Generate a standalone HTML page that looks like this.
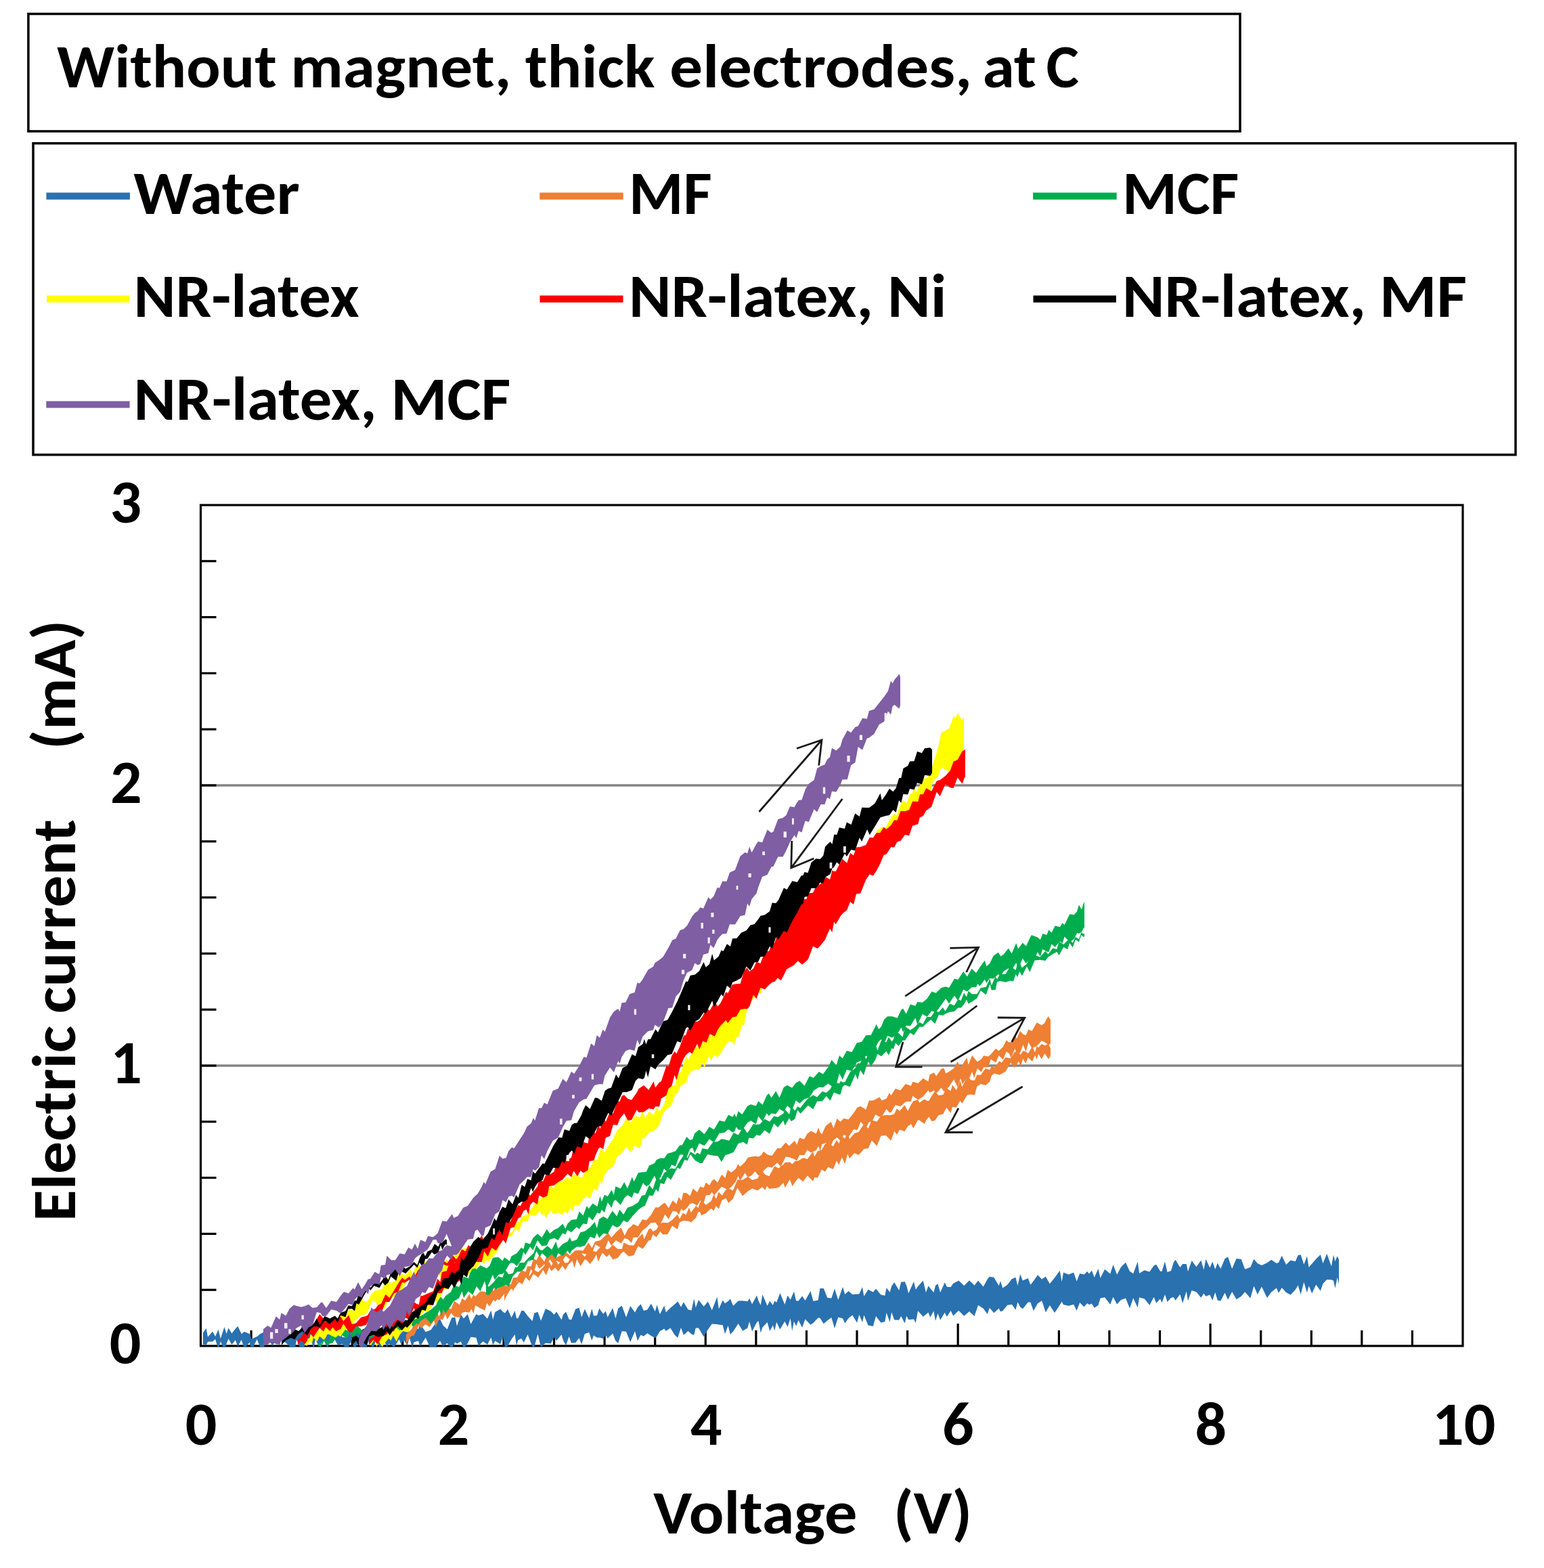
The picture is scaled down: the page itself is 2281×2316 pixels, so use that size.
<!DOCTYPE html><html><head><meta charset="utf-8"><style>html,body{margin:0;padding:0;background:#fff;width:2281px;height:2316px;overflow:hidden}svg{display:block} text{font-family:Carlito,'Liberation Sans',sans-serif;font-weight:bold;fill:#000}</style></head><body>
<svg width="2281" height="2316" viewBox="0 0 2281 2316">
<rect x="0" y="0" width="2281" height="2316" fill="#fff"/>
<rect x="41.9" y="20.5" width="1790.1" height="173.4" fill="none" stroke="#000" stroke-width="3.5"/>
<text x="84.0" y="128.5" font-size="92" textLength="324.9" lengthAdjust="spacingAndGlyphs" >Without</text>
<text x="429.2" y="128.5" font-size="92" textLength="326.2" lengthAdjust="spacingAndGlyphs" >magnet,</text>
<text x="775.7" y="128.5" font-size="92" textLength="191.8" lengthAdjust="spacingAndGlyphs" >thick</text>
<text x="989.2" y="128.5" font-size="92" textLength="446.9" lengthAdjust="spacingAndGlyphs" >electrodes,</text>
<text x="1451.4" y="128.5" font-size="92" textLength="79.6" lengthAdjust="spacingAndGlyphs" >at</text>
<text x="1545.5" y="128.5" font-size="92" textLength="48.4" lengthAdjust="spacingAndGlyphs" >C</text>
<rect x="49" y="211.7" width="2190" height="460" fill="none" stroke="#000" stroke-width="3.5"/>
<line x1="68.4" y1="289.6" x2="191.9" y2="289.6" stroke="#2a71b0" stroke-width="10.2"/>
<text x="197.2" y="315.5" font-size="92" textLength="245.5" lengthAdjust="spacingAndGlyphs" >Water</text>
<line x1="797.3" y1="289.6" x2="920.7" y2="289.6" stroke="#ee7f33" stroke-width="10.2"/>
<text x="929.0" y="315.5" font-size="92" textLength="122.7" lengthAdjust="spacingAndGlyphs" >MF</text>
<line x1="1526.1" y1="289.6" x2="1649.7" y2="289.6" stroke="#00ad4e" stroke-width="10.2"/>
<text x="1657.9" y="315.5" font-size="92" textLength="172.4" lengthAdjust="spacingAndGlyphs" >MCF</text>
<line x1="69.2" y1="441.7" x2="191.3" y2="441.7" stroke="#ffff00" stroke-width="10.2"/>
<text x="197.6" y="468.0" font-size="92" textLength="333.1" lengthAdjust="spacingAndGlyphs" >NR-latex</text>
<line x1="797.5" y1="441.7" x2="920.5" y2="441.7" stroke="#ff0000" stroke-width="10.2"/>
<text x="928.9" y="468.0" font-size="92" textLength="361.1" lengthAdjust="spacingAndGlyphs" >NR-latex,</text>
<text x="1311.0" y="468.0" font-size="92" textLength="87.4" lengthAdjust="spacingAndGlyphs" >Ni</text>
<line x1="1526.5" y1="441.7" x2="1648.9" y2="441.7" stroke="#000000" stroke-width="10.2"/>
<text x="1658.1" y="468.0" font-size="92" textLength="359.8" lengthAdjust="spacingAndGlyphs" >NR-latex,</text>
<text x="2037.8" y="468.0" font-size="92" textLength="129.2" lengthAdjust="spacingAndGlyphs" >MF</text>
<line x1="68.3" y1="597.5" x2="191.6" y2="597.5" stroke="#7f5ea3" stroke-width="10.2"/>
<text x="197.5" y="620.3" font-size="92" textLength="359.2" lengthAdjust="spacingAndGlyphs" >NR-latex,</text>
<text x="577.6" y="620.3" font-size="92" textLength="176.7" lengthAdjust="spacingAndGlyphs" >MCF</text>
<line x1="296.5" y1="1574.0" x2="2161.0" y2="1574.0" stroke="#858585" stroke-width="3.5"/>
<line x1="296.5" y1="1160.0" x2="2161.0" y2="1160.0" stroke="#858585" stroke-width="3.5"/>
<rect x="296.5" y="746.0" width="1864.5" height="1242.0" fill="none" stroke="#000" stroke-width="3.2"/>
<line x1="296.5" y1="1905.2" x2="319.5" y2="1905.2" stroke="#000" stroke-width="3.2"/>
<line x1="296.5" y1="1822.4" x2="319.5" y2="1822.4" stroke="#000" stroke-width="3.2"/>
<line x1="296.5" y1="1739.6" x2="319.5" y2="1739.6" stroke="#000" stroke-width="3.2"/>
<line x1="296.5" y1="1656.8" x2="319.5" y2="1656.8" stroke="#000" stroke-width="3.2"/>
<line x1="296.5" y1="1574.0" x2="319.5" y2="1574.0" stroke="#000" stroke-width="3.2"/>
<line x1="296.5" y1="1491.2" x2="319.5" y2="1491.2" stroke="#000" stroke-width="3.2"/>
<line x1="296.5" y1="1408.4" x2="319.5" y2="1408.4" stroke="#000" stroke-width="3.2"/>
<line x1="296.5" y1="1325.6" x2="319.5" y2="1325.6" stroke="#000" stroke-width="3.2"/>
<line x1="296.5" y1="1242.8" x2="319.5" y2="1242.8" stroke="#000" stroke-width="3.2"/>
<line x1="296.5" y1="1160.0" x2="319.5" y2="1160.0" stroke="#000" stroke-width="3.2"/>
<line x1="296.5" y1="1077.2" x2="319.5" y2="1077.2" stroke="#000" stroke-width="3.2"/>
<line x1="296.5" y1="994.4" x2="319.5" y2="994.4" stroke="#000" stroke-width="3.2"/>
<line x1="296.5" y1="911.6" x2="319.5" y2="911.6" stroke="#000" stroke-width="3.2"/>
<line x1="296.5" y1="828.8" x2="319.5" y2="828.8" stroke="#000" stroke-width="3.2"/>
<line x1="371.1" y1="1988.0" x2="371.1" y2="1965.0" stroke="#000" stroke-width="3.2"/>
<line x1="445.7" y1="1988.0" x2="445.7" y2="1965.0" stroke="#000" stroke-width="3.2"/>
<line x1="520.2" y1="1988.0" x2="520.2" y2="1965.0" stroke="#000" stroke-width="3.2"/>
<line x1="594.8" y1="1988.0" x2="594.8" y2="1965.0" stroke="#000" stroke-width="3.2"/>
<line x1="669.4" y1="1988.0" x2="669.4" y2="1955.0" stroke="#000" stroke-width="3.2"/>
<line x1="744.0" y1="1988.0" x2="744.0" y2="1965.0" stroke="#000" stroke-width="3.2"/>
<line x1="818.6" y1="1988.0" x2="818.6" y2="1965.0" stroke="#000" stroke-width="3.2"/>
<line x1="893.1" y1="1988.0" x2="893.1" y2="1965.0" stroke="#000" stroke-width="3.2"/>
<line x1="967.7" y1="1988.0" x2="967.7" y2="1965.0" stroke="#000" stroke-width="3.2"/>
<line x1="1042.3" y1="1988.0" x2="1042.3" y2="1955.0" stroke="#000" stroke-width="3.2"/>
<line x1="1116.9" y1="1988.0" x2="1116.9" y2="1965.0" stroke="#000" stroke-width="3.2"/>
<line x1="1191.5" y1="1988.0" x2="1191.5" y2="1965.0" stroke="#000" stroke-width="3.2"/>
<line x1="1266.0" y1="1988.0" x2="1266.0" y2="1965.0" stroke="#000" stroke-width="3.2"/>
<line x1="1340.6" y1="1988.0" x2="1340.6" y2="1965.0" stroke="#000" stroke-width="3.2"/>
<line x1="1415.2" y1="1988.0" x2="1415.2" y2="1955.0" stroke="#000" stroke-width="3.2"/>
<line x1="1489.8" y1="1988.0" x2="1489.8" y2="1965.0" stroke="#000" stroke-width="3.2"/>
<line x1="1564.4" y1="1988.0" x2="1564.4" y2="1965.0" stroke="#000" stroke-width="3.2"/>
<line x1="1638.9" y1="1988.0" x2="1638.9" y2="1965.0" stroke="#000" stroke-width="3.2"/>
<line x1="1713.5" y1="1988.0" x2="1713.5" y2="1965.0" stroke="#000" stroke-width="3.2"/>
<line x1="1788.1" y1="1988.0" x2="1788.1" y2="1955.0" stroke="#000" stroke-width="3.2"/>
<line x1="1862.7" y1="1988.0" x2="1862.7" y2="1965.0" stroke="#000" stroke-width="3.2"/>
<line x1="1937.3" y1="1988.0" x2="1937.3" y2="1965.0" stroke="#000" stroke-width="3.2"/>
<line x1="2011.8" y1="1988.0" x2="2011.8" y2="1965.0" stroke="#000" stroke-width="3.2"/>
<line x1="2086.4" y1="1988.0" x2="2086.4" y2="1965.0" stroke="#000" stroke-width="3.2"/>
<defs><clipPath id="pc"><rect x="298.0" y="747.5" width="1861.5" height="1242.5"/></clipPath></defs>
<g clip-path="url(#pc)">
<polygon points="300.0,1968.5 304.7,1962.0 307.0,1974.7 314.1,1966.7 318.1,1973.9 322.5,1963.7 325.9,1977.2 331.4,1960.1 334.6,1969.9 337.6,1961.5 342.4,1969.6 347.9,1962.4 351.2,1958.7 356.7,1970.2 361.0,1967.1 368.9,1970.3 371.6,1977.8 379.6,1974.2 384.3,1970.3 389.5,1967.8 392.6,1973.6 399.0,1967.6 402.4,1964.5 406.7,1969.3 409.0,1962.3 413.3,1975.8 421.2,1961.6 429.2,1973.0 435.8,1966.0 438.0,1975.1 445.8,1959.2 453.1,1971.9 459.9,1961.5 463.2,1971.4 466.0,1960.0 470.7,1969.7 478.1,1957.5 483.8,1971.6 490.3,1962.7 493.9,1965.3 499.2,1958.4 505.6,1974.9 512.7,1975.6 519.7,1958.0 523.3,1973.0 530.7,1961.8 534.2,1970.1 541.1,1961.0 546.6,1972.8 549.9,1965.9 555.6,1974.8 560.9,1964.1 568.8,1972.3 571.3,1965.8 574.5,1964.2 582.5,1971.0 589.6,1962.1 592.7,1957.4 596.3,1961.6 601.7,1960.6 604.9,1967.3 609.0,1963.5 611.6,1959.2 618.0,1963.3 620.7,1955.4 628.8,1967.2 636.4,1964.5 643.3,1954.6 650.0,1947.8 654.4,1957.6 660.7,1963.5 667.4,1946.2 672.4,1945.8 675.0,1958.8 680.9,1941.7 685.1,1947.6 690.9,1941.0 695.6,1955.7 703.5,1940.9 706.9,1943.1 713.6,1940.7 720.0,1947.8 725.5,1935.6 728.2,1949.1 731.4,1937.9 739.3,1933.5 742.9,1937.5 746.1,1939.5 750.1,1933.7 755.5,1946.3 760.7,1936.1 763.0,1946.9 765.3,1947.6 770.4,1935.9 773.8,1935.9 779.6,1943.7 786.5,1951.2 789.3,1939.6 794.5,1937.7 799.1,1950.8 806.0,1933.1 813.8,1936.8 818.5,1941.7 822.2,1937.6 829.6,1949.6 832.0,1941.4 836.2,1937.4 840.7,1948.7 844.0,1949.5 850.3,1933.6 855.5,1931.4 859.2,1945.6 863.9,1933.5 870.2,1946.9 874.4,1933.1 877.0,1943.4 882.0,1942.9 885.3,1932.4 891.2,1940.8 894.7,1936.4 897.7,1945.5 905.2,1931.9 909.4,1947.3 913.3,1932.5 918.7,1928.6 925.0,1945.8 931.2,1928.9 938.1,1938.5 941.9,1931.1 946.6,1926.3 951.0,1936.0 956.3,1934.4 961.9,1925.6 967.8,1936.9 970.5,1927.5 974.9,1941.2 981.3,1928.5 983.8,1938.5 990.4,1931.8 996.6,1926.7 1001.2,1922.3 1006.1,1930.4 1009.9,1923.2 1016.5,1934.3 1021.5,1935.5 1025.3,1918.2 1027.8,1931.3 1032.0,1920.1 1039.7,1929.8 1045.9,1922.6 1051.8,1935.2 1059.5,1915.6 1061.9,1933.4 1067.7,1920.5 1071.0,1925.3 1075.6,1921.9 1078.9,1918.4 1083.2,1928.7 1090.7,1921.4 1097.2,1921.3 1104.4,1922.3 1107.1,1917.7 1111.1,1926.2 1118.0,1913.4 1120.5,1921.2 1123.8,1927.8 1126.5,1912.0 1133.6,1928.8 1137.2,1921.7 1141.9,1927.8 1144.3,1921.4 1147.2,1923.7 1152.4,1909.9 1159.3,1926.8 1163.6,1913.5 1167.7,1919.7 1170.2,1913.9 1173.0,1907.5 1176.1,1921.2 1179.6,1921.5 1185.1,1914.3 1189.5,1920.7 1197.5,1907.1 1201.4,1921.8 1208.6,1920.5 1211.4,1903.0 1216.8,1903.0 1222.2,1916.8 1228.3,1917.5 1233.0,1903.4 1238.3,1919.9 1245.1,1900.8 1248.2,1911.8 1253.6,1907.0 1259.3,1912.1 1266.1,1911.6 1269.3,1911.2 1274.0,1901.1 1276.4,1914.7 1282.5,1904.7 1289.8,1908.6 1294.1,1903.5 1301.2,1912.3 1307.3,1913.8 1309.6,1902.0 1314.6,1908.8 1317.1,1899.8 1321.2,1894.0 1328.2,1905.9 1331.1,1893.7 1336.7,1892.9 1339.3,1899.2 1342.2,1910.2 1350.0,1892.8 1352.8,1904.8 1356.1,1900.0 1363.8,1891.5 1367.9,1909.0 1371.4,1899.2 1374.2,1902.8 1379.4,1908.9 1382.0,1898.7 1385.5,1896.3 1389.1,1909.1 1395.7,1894.3 1398.9,1900.7 1404.6,1901.1 1408.2,1895.7 1416.3,1891.6 1424.3,1899.0 1432.0,1891.3 1439.5,1898.5 1445.0,1891.4 1452.7,1900.6 1458.7,1889.6 1461.9,1885.7 1468.4,1886.8 1475.6,1899.0 1478.0,1892.0 1481.3,1902.4 1488.2,1897.7 1494.9,1888.9 1500.5,1886.8 1503.4,1899.0 1507.2,1882.0 1510.8,1891.6 1518.8,1887.9 1522.4,1897.8 1526.8,1892.1 1533.1,1883.3 1539.2,1889.5 1544.8,1885.5 1550.8,1896.2 1558.1,1887.3 1565.7,1876.7 1568.6,1893.3 1571.0,1879.4 1578.6,1882.4 1586.2,1879.4 1590.6,1892.4 1595.2,1881.1 1601.5,1882.4 1606.2,1877.9 1609.1,1881.5 1612.8,1876.5 1616.8,1886.8 1622.4,1874.0 1625.6,1887.7 1632.1,1874.8 1640.1,1881.4 1644.6,1868.0 1650.1,1882.8 1656.1,1871.5 1663.0,1864.8 1669.0,1877.8 1674.2,1881.2 1680.7,1863.6 1683.1,1880.7 1690.8,1876.2 1698.3,1878.5 1704.7,1869.3 1708.1,1867.8 1714.0,1877.4 1716.4,1877.9 1721.0,1863.2 1724.5,1878.9 1730.0,1877.0 1733.7,1864.8 1736.5,1860.7 1743.4,1872.0 1747.1,1867.0 1752.7,1866.9 1755.0,1877.9 1760.6,1861.9 1767.4,1871.2 1774.3,1861.4 1778.4,1875.6 1781.4,1859.8 1787.3,1872.5 1791.3,1863.4 1795.2,1874.8 1798.7,1865.5 1803.3,1874.1 1809.5,1859.2 1814.1,1856.6 1820.1,1874.1 1826.6,1859.1 1833.6,1859.7 1839.2,1874.8 1847.3,1871.8 1852.4,1859.8 1857.8,1865.9 1863.9,1868.9 1871.9,1865.3 1878.2,1860.7 1885.8,1866.0 1889.0,1864.7 1893.7,1854.8 1900.1,1867.9 1906.6,1861.5 1913.7,1863.3 1917.6,1854.0 1921.6,1853.2 1926.3,1867.7 1930.9,1855.6 1933.6,1871.9 1938.2,1866.6 1944.2,1859.5 1950.8,1853.2 1954.4,1866.0 1960.2,1851.8 1966.9,1870.5 1970.0,1853.6 1972.4,1862.9 1975.6,1855.2 1978.0,1860.5 1978.0,1896.5 1975.6,1886.9 1972.4,1902.7 1970.0,1891.5 1966.9,1890.2 1960.2,1890.1 1954.4,1895.9 1950.8,1906.7 1944.2,1897.4 1938.2,1910.6 1933.6,1899.2 1930.9,1909.2 1926.3,1893.8 1921.6,1912.1 1917.6,1898.6 1913.7,1904.9 1906.6,1912.4 1900.1,1908.9 1893.7,1902.1 1889.0,1909.7 1885.8,1902.4 1878.2,1908.4 1871.9,1917.1 1863.9,1900.5 1857.8,1912.1 1852.4,1899.6 1847.3,1917.6 1839.2,1908.3 1833.6,1914.7 1826.6,1919.3 1820.1,1908.0 1814.1,1919.7 1809.5,1909.5 1803.3,1921.5 1798.7,1920.4 1795.2,1908.8 1791.3,1920.7 1787.3,1912.5 1781.4,1914.8 1778.4,1910.4 1774.3,1916.7 1767.4,1908.3 1760.6,1905.9 1755.0,1921.2 1752.7,1907.6 1747.1,1925.1 1743.4,1911.7 1736.5,1920.7 1733.7,1916.1 1730.0,1916.9 1724.5,1923.0 1721.0,1911.9 1716.4,1924.2 1714.0,1918.6 1708.1,1924.7 1704.7,1915.7 1698.3,1927.8 1690.8,1918.5 1683.1,1916.2 1680.7,1931.6 1674.2,1917.3 1669.0,1932.4 1663.0,1917.4 1656.1,1920.0 1650.1,1926.4 1644.6,1915.7 1640.1,1926.8 1632.1,1916.2 1625.6,1917.4 1622.4,1927.9 1616.8,1931.8 1612.8,1925.4 1609.1,1927.1 1606.2,1925.0 1601.5,1930.3 1595.2,1924.1 1590.6,1935.9 1586.2,1926.8 1578.6,1928.7 1571.0,1926.9 1568.6,1922.6 1565.7,1927.6 1558.1,1939.1 1550.8,1927.9 1544.8,1938.6 1539.2,1921.3 1533.1,1924.9 1526.8,1936.3 1522.4,1923.6 1518.8,1923.6 1510.8,1933.2 1507.2,1930.4 1503.4,1923.2 1500.5,1934.7 1494.9,1926.7 1488.2,1927.7 1481.3,1936.3 1478.0,1937.2 1475.6,1932.6 1468.4,1939.2 1461.9,1931.8 1458.7,1941.1 1452.7,1932.8 1445.0,1927.7 1439.5,1944.1 1432.0,1937.1 1424.3,1943.7 1416.3,1935.8 1408.2,1943.5 1404.6,1936.0 1398.9,1944.7 1395.7,1938.7 1389.1,1949.7 1385.5,1940.1 1382.0,1951.1 1379.4,1936.6 1374.2,1945.8 1371.4,1938.6 1367.9,1941.4 1363.8,1944.8 1356.1,1936.2 1352.8,1954.0 1350.0,1948.6 1342.2,1949.2 1339.3,1943.7 1336.7,1954.6 1331.1,1944.0 1328.2,1949.7 1321.2,1949.6 1317.1,1938.3 1314.6,1952.7 1309.6,1939.1 1307.3,1952.3 1301.2,1953.6 1294.1,1943.9 1289.8,1959.1 1282.5,1957.5 1276.4,1942.5 1274.0,1953.1 1269.3,1942.0 1266.1,1953.7 1259.3,1942.5 1253.6,1947.1 1248.2,1954.5 1245.1,1947.4 1238.3,1945.5 1233.0,1962.1 1228.3,1945.9 1222.2,1950.4 1216.8,1955.2 1211.4,1946.7 1208.6,1946.6 1201.4,1954.1 1197.5,1956.8 1189.5,1948.5 1185.1,1960.9 1179.6,1950.1 1176.1,1958.7 1173.0,1951.8 1170.2,1965.9 1167.7,1947.3 1163.6,1960.0 1159.3,1951.7 1152.4,1963.5 1147.2,1952.7 1144.3,1965.6 1141.9,1957.4 1137.2,1966.0 1133.6,1953.1 1126.5,1960.4 1123.8,1968.7 1120.5,1951.1 1118.0,1953.3 1111.1,1966.5 1107.1,1952.0 1104.4,1961.5 1097.2,1965.7 1090.7,1955.0 1083.2,1966.5 1078.9,1970.9 1075.6,1957.9 1071.0,1970.4 1067.7,1957.3 1061.9,1956.5 1059.5,1956.0 1051.8,1955.5 1045.9,1963.7 1039.7,1974.5 1032.0,1961.5 1027.8,1961.6 1025.3,1972.0 1021.5,1970.4 1016.5,1966.0 1009.9,1971.9 1006.1,1961.0 1001.2,1976.0 996.6,1971.5 990.4,1961.5 983.8,1966.0 981.3,1962.5 974.9,1966.3 970.5,1973.7 967.8,1976.3 961.9,1973.0 956.3,1969.3 951.0,1973.7 946.6,1971.7 941.9,1980.6 938.1,1966.2 931.2,1982.3 925.0,1966.7 918.7,1966.2 913.3,1983.9 909.4,1980.5 905.2,1969.7 897.7,1976.7 894.7,1971.7 891.2,1977.3 885.3,1975.5 882.0,1975.7 877.0,1972.4 874.4,1980.1 870.2,1968.1 863.9,1970.2 859.2,1985.7 855.5,1976.2 850.3,1983.3 844.0,1983.6 840.7,1974.0 836.2,1986.9 832.0,1980.0 829.6,1971.2 822.2,1980.1 818.5,1975.6 813.8,1984.6 806.0,1983.8 799.1,1989.4 794.5,1970.4 789.3,1989.4 786.5,1989.1 779.6,1971.3 773.8,1982.9 770.4,1977.0 765.3,1979.4 763.0,1987.8 760.7,1971.0 755.5,1978.3 750.1,1988.1 746.1,1989.7 742.9,1973.8 739.3,1985.4 731.4,1980.4 728.2,1986.8 725.5,1975.5 720.0,1986.0 713.6,1981.2 706.9,1988.3 703.5,1975.8 695.6,1974.7 690.9,1984.0 685.1,1991.9 680.9,1981.5 675.0,1984.8 672.4,1982.3 667.4,1992.1 660.7,1983.9 654.4,1988.5 650.0,1980.5 643.3,1990.2 636.4,1992.6 628.8,1975.8 620.7,1988.6 618.0,1980.4 611.6,1982.5 609.0,1989.9 604.9,1976.1 601.7,1987.2 596.3,1978.8 592.7,1986.1 589.6,1978.2 582.5,1989.7 574.5,1984.9 571.3,1989.6 568.8,1982.7 560.9,1989.8 555.6,1979.2 549.9,1995.1 546.6,1976.8 541.1,1989.9 534.2,1992.3 530.7,1981.4 523.3,1992.1 519.7,1979.2 512.7,1993.9 505.6,1984.9 499.2,1987.3 493.9,1977.5 490.3,1975.5 483.8,1990.5 478.1,1979.2 470.7,1988.9 466.0,1977.5 463.2,1993.6 459.9,1977.9 453.1,1982.5 445.8,1995.1 438.0,1979.1 435.8,1992.1 429.2,1989.8 421.2,1982.6 413.3,1979.8 409.0,1986.2 406.7,1980.5 402.4,1987.9 399.0,1981.6 392.6,1977.9 389.5,1992.4 384.3,1989.6 379.6,1978.2 371.6,1994.9 368.9,1982.5 361.0,1992.4 356.7,1978.9 351.2,1989.0 347.9,1979.2 342.4,1986.0 337.6,1977.6 334.6,1984.6 331.4,1994.4 325.9,1981.2 322.5,1993.2 318.1,1977.9 314.1,1981.4 307.0,1981.7 304.7,1986.4 300.0,1985.5" fill="#2a71b0"/>
<polygon points="600.0,1971.2 607.2,1964.2 611.6,1957.1 619.4,1949.5 621.8,1948.9 628.5,1941.4 634.7,1939.9 641.2,1944.0 643.6,1935.4 648.8,1943.9 654.0,1932.0 658.0,1937.3 660.8,1932.0 666.6,1933.6 671.0,1921.4 679.0,1927.3 682.7,1917.5 687.2,1921.1 693.3,1911.3 696.3,1918.2 699.5,1912.3 702.2,1915.1 709.4,1907.6 716.3,1907.8 719.2,1909.9 723.1,1899.6 729.3,1907.1 731.8,1899.6 734.5,1904.9 737.8,1900.3 744.6,1897.3 748.3,1899.8 754.9,1896.6 758.1,1887.2 764.1,1886.7 770.3,1875.4 776.3,1878.7 779.5,1870.2 784.5,1870.4 788.2,1858.8 792.4,1861.5 796.6,1853.4 804.1,1863.6 807.5,1854.8 812.0,1851.0 818.9,1853.7 821.6,1858.0 828.4,1853.6 835.9,1849.5 841.8,1854.6 849.5,1847.3 854.4,1846.5 861.2,1847.4 869.3,1835.2 874.4,1843.2 879.3,1833.7 887.1,1832.0 893.5,1825.8 898.7,1821.1 903.2,1827.9 909.7,1820.4 917.6,1813.2 922.8,1825.1 927.8,1815.3 933.0,1811.1 935.5,1808.0 942.5,1811.2 949.0,1801.1 954.9,1802.5 961.3,1795.2 968.3,1783.3 973.0,1783.6 978.6,1778.6 982.3,1776.4 987.8,1784.2 993.9,1772.9 999.4,1778.6 1002.8,1768.1 1006.7,1773.4 1009.2,1762.1 1013.9,1762.1 1019.5,1766.4 1023.8,1755.5 1030.0,1761.0 1034.5,1752.4 1039.5,1754.4 1042.9,1746.7 1048.3,1750.7 1051.8,1743.9 1055.3,1741.7 1060.1,1746.8 1066.1,1735.0 1071.3,1740.1 1074.9,1727.9 1080.5,1731.7 1086.9,1726.4 1090.4,1719.5 1093.3,1723.3 1100.6,1716.4 1104.9,1709.8 1110.4,1708.5 1115.5,1707.7 1120.8,1708.4 1124.9,1706.1 1128.0,1700.8 1134.3,1705.7 1140.6,1706.9 1148.3,1695.9 1153.4,1696.1 1160.7,1687.6 1165.9,1692.7 1173.9,1684.8 1177.1,1691.1 1181.1,1680.5 1187.9,1682.7 1192.6,1674.5 1198.1,1670.4 1205.6,1674.4 1209.1,1665.4 1211.7,1672.6 1214.1,1675.6 1219.9,1663.0 1227.7,1657.0 1231.4,1666.6 1236.6,1652.0 1241.3,1657.1 1246.5,1652.1 1253.5,1653.6 1261.0,1644.3 1266.6,1635.8 1271.6,1634.0 1279.2,1639.1 1284.0,1625.6 1288.1,1625.7 1293.1,1623.9 1299.2,1620.6 1302.9,1625.4 1309.5,1622.8 1313.9,1614.2 1316.5,1618.1 1322.8,1607.9 1330.3,1610.5 1337.8,1601.0 1345.8,1604.0 1348.4,1597.7 1356.3,1600.1 1363.8,1592.8 1371.3,1597.5 1373.6,1587.3 1379.8,1584.3 1383.2,1589.6 1390.7,1578.7 1394.5,1577.8 1397.1,1585.4 1402.8,1582.5 1409.1,1578.0 1414.5,1568.2 1419.1,1575.9 1421.8,1572.8 1428.3,1561.9 1430.6,1572.7 1436.2,1558.9 1439.0,1562.6 1443.9,1568.2 1449.6,1564.4 1453.3,1559.2 1459.9,1560.4 1463.7,1557.5 1471.0,1548.7 1475.6,1552.2 1481.8,1546.2 1486.7,1536.6 1490.8,1539.8 1493.6,1539.1 1499.5,1527.1 1502.0,1534.5 1507.0,1522.7 1511.6,1527.7 1515.6,1529.2 1519.3,1520.6 1524.4,1522.9 1531.8,1510.3 1538.7,1514.3 1542.8,1511.5 1548.5,1500.9 1552.0,1506.2 1552.0,1541.8 1548.5,1543.2 1542.8,1539.1 1538.7,1537.3 1531.8,1544.9 1524.4,1548.2 1519.3,1539.3 1515.6,1553.7 1511.6,1543.0 1507.0,1555.1 1502.0,1558.4 1499.5,1548.8 1493.6,1562.5 1490.8,1556.0 1486.7,1553.2 1481.8,1565.3 1475.6,1558.9 1471.0,1569.5 1463.7,1564.6 1459.9,1576.6 1453.3,1576.2 1449.6,1583.5 1443.9,1578.0 1439.0,1592.4 1436.2,1583.1 1430.6,1595.2 1428.3,1592.2 1421.8,1601.4 1419.1,1592.6 1414.5,1605.4 1409.1,1594.3 1402.8,1604.0 1397.1,1610.5 1394.5,1612.4 1390.7,1606.6 1383.2,1615.0 1379.8,1610.4 1373.6,1613.9 1371.3,1610.6 1363.8,1619.6 1356.3,1624.4 1348.4,1618.8 1345.8,1626.7 1337.8,1627.4 1330.3,1634.3 1322.8,1632.1 1316.5,1643.0 1313.9,1643.3 1309.5,1637.9 1302.9,1649.1 1299.2,1649.4 1293.1,1646.3 1288.1,1657.3 1284.0,1657.0 1279.2,1665.9 1271.6,1657.0 1266.6,1669.1 1261.0,1668.3 1253.5,1679.2 1246.5,1676.1 1241.3,1684.6 1236.6,1680.1 1231.4,1683.7 1227.7,1692.2 1219.9,1688.2 1214.1,1690.2 1211.7,1700.5 1209.1,1693.1 1205.6,1699.1 1198.1,1702.4 1192.6,1698.6 1187.9,1706.2 1181.1,1705.9 1177.1,1714.6 1173.9,1712.3 1165.9,1709.2 1160.7,1708.6 1153.4,1723.4 1148.3,1717.2 1140.6,1724.6 1134.3,1723.4 1128.0,1729.2 1124.9,1734.5 1120.8,1736.6 1115.5,1730.2 1110.4,1736.1 1104.9,1738.9 1100.6,1732.6 1093.3,1744.1 1090.4,1737.1 1086.9,1745.5 1080.5,1752.9 1074.9,1757.3 1071.3,1755.3 1066.1,1752.7 1060.1,1759.6 1055.3,1765.4 1051.8,1761.1 1048.3,1765.1 1042.9,1765.5 1039.5,1777.1 1034.5,1773.2 1030.0,1780.9 1023.8,1777.0 1019.5,1778.1 1013.9,1785.2 1009.2,1788.5 1006.7,1785.2 1002.8,1794.3 999.4,1789.7 993.9,1788.4 987.8,1800.7 982.3,1793.8 978.6,1801.9 973.0,1812.2 968.3,1805.8 961.3,1806.2 954.9,1813.2 949.0,1817.4 942.5,1827.7 935.5,1827.6 933.0,1836.0 927.8,1830.6 922.8,1829.1 917.6,1836.6 909.7,1831.9 903.2,1840.1 898.7,1832.0 893.5,1845.1 887.1,1842.5 879.3,1838.0 874.4,1852.8 869.3,1853.2 861.2,1851.4 854.4,1852.0 849.5,1854.5 841.8,1860.1 835.9,1855.0 828.4,1864.9 821.6,1862.0 818.9,1869.1 812.0,1860.0 807.5,1870.8 804.1,1867.6 796.6,1874.2 792.4,1866.3 788.2,1881.0 784.5,1874.4 779.5,1889.6 776.3,1882.7 770.3,1896.0 764.1,1891.5 758.1,1907.2 754.9,1900.8 748.3,1910.7 744.6,1911.5 737.8,1920.2 734.5,1919.1 731.8,1922.8 729.3,1920.0 723.1,1929.6 719.2,1924.8 716.3,1935.4 709.4,1932.2 702.2,1928.0 699.5,1940.2 696.3,1933.4 693.3,1938.7 687.2,1937.7 682.7,1939.1 679.0,1946.0 671.0,1944.8 666.6,1939.2 660.8,1948.9 658.0,1941.3 654.0,1949.4 648.8,1947.9 643.6,1960.2 641.2,1950.5 634.7,1960.3 628.5,1956.1 621.8,1962.6 619.4,1957.0 611.6,1972.5 607.2,1973.7 600.0,1984.8" fill="#ee7f33"/>
<polygon points="745.0,1908.2 747.3,1912.0 754.4,1900.0 761.1,1895.6 764.4,1892.6 768.5,1884.9 771.2,1891.6 776.7,1878.3 782.1,1885.1 788.0,1875.4 795.2,1879.0 802.4,1871.7 806.7,1866.1 811.4,1863.7 814.5,1869.9 820.2,1859.5 824.7,1867.9 831.0,1859.7 835.1,1865.7 839.4,1864.4 845.5,1852.9 848.6,1852.5 852.2,1853.3 857.7,1850.0 863.9,1856.2 866.9,1852.0 871.5,1845.7 876.4,1847.7 881.0,1848.9 883.7,1845.5 889.9,1839.0 896.3,1845.4 900.0,1844.2 905.4,1838.5 912.4,1844.8 919.0,1844.8 921.3,1835.6 925.4,1837.2 929.0,1839.3 936.3,1839.4 942.7,1828.7 949.3,1822.1 951.6,1830.2 958.2,1816.0 961.3,1814.2 964.6,1819.0 969.6,1816.3 975.4,1807.0 979.2,1805.7 986.4,1806.3 993.0,1802.1 1000.9,1793.4 1004.0,1800.4 1009.0,1791.3 1013.4,1794.6 1017.9,1783.6 1020.8,1791.1 1028.3,1780.8 1031.3,1784.3 1033.8,1777.3 1036.2,1773.3 1043.1,1779.7 1050.4,1774.2 1054.5,1764.3 1057.9,1770.7 1061.8,1760.5 1066.6,1765.8 1072.4,1757.5 1076.2,1754.9 1082.8,1758.5 1089.4,1742.5 1097.0,1742.8 1104.8,1737.9 1111.4,1743.0 1119.1,1740.8 1126.0,1729.4 1130.5,1735.1 1132.9,1736.0 1136.4,1737.3 1144.2,1722.6 1150.3,1725.6 1157.3,1719.9 1159.9,1717.1 1166.7,1716.5 1170.6,1719.6 1174.6,1714.9 1179.4,1714.6 1186.5,1710.2 1192.9,1712.1 1201.0,1700.8 1203.2,1708.4 1208.0,1700.2 1213.9,1698.5 1218.8,1689.8 1223.3,1688.1 1230.8,1693.3 1236.0,1683.9 1239.2,1689.1 1243.7,1678.4 1248.3,1681.4 1252.2,1671.5 1255.0,1682.4 1262.2,1674.1 1268.5,1672.1 1276.5,1659.7 1282.7,1666.9 1287.9,1654.6 1295.5,1656.8 1301.4,1648.3 1308.8,1647.1 1316.3,1647.2 1321.3,1645.2 1324.8,1637.2 1329.1,1641.2 1336.5,1632.2 1341.2,1641.1 1345.8,1631.7 1349.3,1626.2 1356.1,1624.6 1358.3,1628.7 1365.7,1623.5 1368.9,1625.7 1372.4,1626.0 1376.2,1618.9 1381.0,1612.0 1386.6,1618.1 1393.3,1617.1 1398.3,1607.1 1404.5,1611.5 1407.0,1602.6 1412.9,1610.3 1418.5,1595.8 1421.2,1605.6 1429.1,1590.0 1434.9,1595.5 1439.9,1595.7 1443.4,1587.4 1448.7,1588.0 1455.9,1578.0 1462.2,1580.2 1465.0,1574.2 1469.1,1576.8 1476.7,1567.0 1479.6,1569.7 1485.5,1561.8 1492.9,1563.3 1499.1,1553.6 1505.1,1554.6 1507.5,1557.9 1511.4,1552.2 1515.1,1552.9 1518.8,1556.1 1525.0,1545.8 1529.1,1554.6 1531.5,1544.9 1534.0,1547.4 1538.7,1541.9 1543.4,1544.3 1549.0,1541.7 1552.0,1548.2 1552.0,1558.8 1549.0,1564.5 1543.4,1556.1 1538.7,1564.5 1534.0,1556.6 1531.5,1564.8 1529.1,1558.6 1525.0,1567.9 1518.8,1561.8 1515.1,1571.0 1511.4,1564.0 1507.5,1575.2 1505.1,1567.5 1499.1,1577.0 1492.9,1569.7 1485.5,1582.7 1479.6,1585.9 1476.7,1587.8 1469.1,1585.6 1465.0,1588.4 1462.2,1597.7 1455.9,1603.0 1448.7,1600.9 1443.4,1604.7 1439.9,1617.6 1434.9,1616.4 1429.1,1617.2 1421.2,1629.9 1418.5,1625.7 1412.9,1635.7 1407.0,1635.0 1404.5,1643.9 1398.3,1635.9 1393.3,1645.4 1386.6,1646.9 1381.0,1655.3 1376.2,1656.1 1372.4,1649.4 1368.9,1653.7 1365.7,1660.0 1358.3,1654.7 1356.1,1654.3 1349.3,1666.6 1345.8,1659.9 1341.2,1663.5 1336.5,1670.9 1329.1,1668.6 1324.8,1675.9 1321.3,1670.5 1316.3,1684.7 1308.8,1677.0 1301.4,1677.7 1295.5,1692.8 1287.9,1684.6 1282.7,1696.2 1276.5,1697.1 1268.5,1705.9 1262.2,1702.9 1255.0,1711.2 1252.2,1704.3 1248.3,1718.9 1243.7,1709.6 1239.2,1720.4 1236.0,1714.6 1230.8,1727.1 1223.3,1723.8 1218.8,1730.7 1213.9,1727.2 1208.0,1739.5 1203.2,1739.2 1201.0,1744.7 1192.9,1736.4 1186.5,1745.2 1179.4,1739.7 1174.6,1746.0 1170.6,1752.3 1166.7,1742.0 1159.9,1754.5 1157.3,1747.0 1150.3,1754.0 1144.2,1755.3 1136.4,1755.8 1132.9,1751.8 1130.5,1757.8 1126.0,1753.3 1119.1,1758.6 1111.4,1755.5 1104.8,1759.6 1097.0,1766.6 1089.4,1754.6 1082.8,1770.8 1076.2,1776.8 1072.4,1769.7 1066.6,1772.8 1061.8,1785.6 1057.9,1781.5 1054.5,1788.2 1050.4,1785.1 1043.1,1791.8 1036.2,1795.2 1033.8,1789.5 1031.3,1790.4 1028.3,1798.5 1020.8,1805.5 1017.9,1803.7 1013.4,1803.2 1009.0,1803.1 1004.0,1805.5 1000.9,1815.7 993.0,1810.4 986.4,1822.9 979.2,1823.4 975.4,1819.1 969.6,1827.4 964.6,1823.0 961.3,1831.8 958.2,1832.4 951.6,1842.0 949.3,1844.7 942.7,1840.5 936.3,1853.9 929.0,1855.7 925.4,1852.4 921.3,1848.5 919.0,1850.0 912.4,1858.1 905.4,1860.2 900.0,1852.4 896.3,1856.7 889.9,1850.3 883.7,1863.6 881.0,1852.9 876.4,1861.1 871.5,1866.9 866.9,1861.3 863.9,1860.2 857.7,1870.3 852.2,1859.7 848.6,1872.9 845.5,1862.1 839.4,1868.4 835.1,1876.0 831.0,1869.5 824.7,1878.0 820.2,1872.2 814.5,1877.4 811.4,1871.8 806.7,1883.8 802.4,1875.7 795.2,1886.9 788.0,1881.6 782.1,1892.2 776.7,1886.5 771.2,1897.5 768.5,1892.5 764.4,1896.6 761.1,1901.7 754.4,1904.0 747.3,1916.0 745.0,1921.8" fill="#ee7f33"/>
<polygon points="470.0,1983.0 474.0,1985.6 479.1,1976.2 481.8,1979.9 485.9,1980.4 491.1,1964.8 498.2,1966.5 505.9,1967.8 512.4,1954.2 516.3,1957.8 520.9,1961.1 527.6,1957.7 535.1,1964.9 542.8,1957.5 547.2,1958.1 551.4,1963.2 558.0,1959.1 563.2,1962.1 570.4,1963.6 575.2,1956.8 578.3,1959.8 582.8,1956.3 588.3,1950.8 594.7,1954.3 599.2,1949.3 607.1,1951.5 610.2,1941.8 614.8,1948.8 618.2,1942.7 621.4,1944.1 628.7,1939.2 636.3,1934.5 644.1,1927.9 649.6,1914.8 652.1,1916.6 654.6,1919.4 658.3,1914.0 666.1,1908.2 670.3,1898.1 678.1,1900.9 682.5,1891.9 685.0,1885.3 691.9,1888.3 698.4,1868.2 704.0,1875.1 709.5,1868.9 715.9,1872.1 719.1,1873.4 723.4,1869.5 727.9,1858.1 730.9,1857.3 736.8,1857.0 742.3,1862.4 745.4,1857.2 752.8,1862.7 755.5,1855.4 759.9,1852.9 763.4,1851.3 770.1,1842.6 773.4,1845.1 776.0,1835.3 783.1,1837.6 787.5,1828.4 794.1,1822.2 800.5,1828.0 807.8,1815.4 812.1,1822.1 819.1,1816.2 824.4,1813.9 831.4,1807.5 835.3,1815.0 838.2,1807.8 844.2,1801.7 851.8,1800.9 855.8,1789.2 861.4,1795.4 867.0,1781.0 869.7,1785.5 875.6,1777.4 882.4,1782.1 886.5,1766.8 888.8,1775.1 893.0,1764.7 897.7,1767.3 903.5,1757.6 906.8,1765.1 909.3,1752.3 916.8,1755.6 922.3,1746.1 927.0,1755.6 933.8,1738.5 936.6,1745.3 942.9,1732.3 950.0,1731.2 954.6,1730.9 959.2,1721.4 966.8,1718.3 970.0,1713.0 976.0,1710.6 981.1,1710.9 986.3,1703.7 992.3,1702.3 997.9,1700.2 1004.1,1691.8 1007.8,1691.3 1014.5,1679.1 1019.3,1684.1 1023.1,1682.8 1026.3,1673.9 1032.9,1668.4 1040.6,1675.3 1047.9,1664.2 1054.8,1668.5 1062.7,1654.9 1070.6,1656.7 1076.0,1646.8 1082.5,1649.8 1085.2,1645.1 1087.7,1650.5 1090.6,1641.3 1096.5,1646.0 1104.3,1633.5 1109.3,1631.3 1116.9,1633.6 1120.3,1626.5 1126.6,1631.8 1132.6,1618.3 1135.6,1615.1 1139.7,1621.5 1146.2,1611.6 1151.5,1621.5 1157.9,1606.0 1163.1,1603.0 1170.1,1606.8 1175.8,1599.5 1181.4,1596.4 1188.6,1603.8 1195.8,1589.6 1201.9,1592.0 1209.9,1583.1 1215.9,1586.4 1223.3,1576.5 1228.6,1565.6 1235.6,1573.8 1240.0,1559.0 1244.7,1563.2 1250.9,1551.9 1258.5,1553.9 1265.7,1540.4 1273.1,1538.7 1279.2,1529.3 1286.8,1528.7 1294.8,1512.7 1298.0,1520.3 1301.9,1516.4 1306.0,1505.9 1311.0,1501.3 1318.1,1501.2 1325.6,1503.7 1331.5,1491.3 1334.1,1489.7 1338.7,1497.5 1344.9,1483.5 1352.3,1485.7 1355.4,1479.7 1362.7,1480.8 1369.6,1475.0 1376.5,1464.4 1382.6,1466.7 1390.7,1459.1 1397.2,1457.2 1402.0,1458.9 1410.0,1445.5 1415.3,1446.9 1423.3,1434.8 1428.8,1442.4 1435.6,1430.7 1442.0,1437.1 1444.4,1433.5 1447.3,1429.1 1454.8,1418.6 1457.3,1427.3 1462.1,1423.2 1467.6,1411.7 1474.8,1406.7 1478.4,1412.5 1482.6,1409.7 1489.8,1400.8 1494.6,1408.4 1501.2,1393.1 1504.2,1401.4 1510.7,1392.6 1515.8,1397.5 1523.6,1381.2 1528.3,1382.7 1532.8,1384.5 1536.9,1388.1 1540.3,1378.9 1546.3,1381.1 1549.4,1373.6 1553.5,1377.5 1558.7,1367.4 1566.0,1369.3 1569.5,1363.3 1572.6,1365.9 1580.3,1350.2 1586.7,1351.2 1591.2,1345.9 1593.9,1336.5 1598.0,1343.6 1601.4,1331.8 1602.0,1336.2 1602.0,1371.8 1601.4,1369.8 1598.0,1376.5 1593.9,1379.1 1591.2,1377.8 1586.7,1387.2 1580.3,1391.6 1572.6,1383.4 1569.5,1393.5 1566.0,1390.3 1558.7,1398.8 1553.5,1394.5 1549.4,1406.3 1546.3,1405.5 1540.3,1402.0 1536.9,1412.8 1532.8,1406.2 1528.3,1417.0 1523.6,1412.2 1515.8,1423.2 1510.7,1415.6 1504.2,1432.0 1501.2,1422.0 1494.6,1432.9 1489.8,1430.3 1482.6,1434.8 1478.4,1441.9 1474.8,1439.0 1467.6,1445.4 1462.1,1445.0 1457.3,1452.0 1454.8,1446.7 1447.3,1456.8 1444.4,1453.1 1442.0,1458.2 1435.6,1458.2 1428.8,1464.6 1423.3,1461.4 1415.3,1478.2 1410.0,1470.6 1402.0,1482.5 1397.2,1475.1 1390.7,1484.2 1382.6,1495.6 1376.5,1493.3 1369.6,1501.8 1362.7,1497.7 1355.4,1513.7 1352.3,1503.4 1344.9,1515.6 1338.7,1514.8 1334.1,1524.7 1331.5,1517.5 1325.6,1527.3 1318.1,1532.8 1311.0,1529.9 1306.0,1542.0 1301.9,1535.0 1298.0,1538.6 1294.8,1544.3 1286.8,1560.0 1279.2,1559.7 1273.1,1566.2 1265.7,1569.5 1258.5,1581.9 1250.9,1579.9 1244.7,1594.7 1240.0,1585.6 1235.6,1601.7 1228.6,1604.3 1223.3,1600.4 1215.9,1606.2 1209.9,1605.8 1201.9,1610.9 1195.8,1621.5 1188.6,1623.2 1181.4,1629.7 1175.8,1625.5 1170.1,1639.5 1163.1,1633.2 1157.9,1642.1 1151.5,1638.1 1146.2,1645.4 1139.7,1644.5 1135.6,1648.3 1132.6,1644.3 1126.6,1656.4 1120.3,1648.7 1116.9,1660.6 1109.3,1655.2 1104.3,1658.2 1096.5,1669.0 1090.6,1668.5 1087.7,1664.6 1085.2,1671.1 1082.5,1672.8 1076.0,1668.0 1070.6,1672.7 1062.7,1674.1 1054.8,1687.4 1047.9,1682.5 1040.6,1692.2 1032.9,1688.8 1026.3,1703.1 1023.1,1695.3 1019.3,1697.0 1014.5,1709.6 1007.8,1705.2 1004.1,1705.8 997.9,1722.9 992.3,1720.2 986.3,1731.5 981.1,1726.0 976.0,1739.0 970.0,1742.9 966.8,1736.8 959.2,1750.0 954.6,1752.2 950.0,1747.3 942.9,1763.4 936.6,1761.2 933.8,1768.9 927.0,1765.2 922.3,1769.8 916.8,1779.7 909.3,1772.3 906.8,1773.9 903.5,1783.9 897.7,1775.9 893.0,1790.9 888.8,1786.8 886.5,1792.7 882.4,1791.2 875.6,1802.5 869.7,1797.2 867.0,1808.2 861.4,1807.3 855.8,1815.3 851.8,1812.4 844.2,1820.0 838.2,1817.1 835.3,1823.6 831.4,1821.2 824.4,1832.1 819.1,1828.8 812.1,1830.8 807.8,1839.4 800.5,1840.5 794.1,1831.9 787.5,1846.5 783.1,1841.6 776.0,1853.8 773.4,1849.1 770.1,1861.0 763.4,1870.4 759.9,1866.4 755.5,1865.1 752.8,1866.7 745.4,1879.3 742.3,1881.7 736.8,1882.5 730.9,1890.4 727.9,1882.8 723.4,1893.7 719.1,1902.3 715.9,1892.6 709.5,1907.3 704.0,1899.7 698.4,1912.8 691.9,1907.2 685.0,1917.3 682.5,1907.2 678.1,1917.4 670.3,1921.9 666.1,1928.8 658.3,1939.5 654.6,1933.9 652.1,1944.9 649.6,1934.8 644.1,1946.0 636.3,1955.1 628.7,1946.3 621.4,1950.9 618.2,1955.9 614.8,1954.7 610.2,1959.9 607.1,1955.5 599.2,1964.7 594.7,1958.3 588.3,1971.1 582.8,1969.3 578.3,1964.9 575.2,1972.9 570.4,1967.6 563.2,1969.5 558.0,1977.4 551.4,1972.5 547.2,1977.1 542.8,1968.9 535.1,1973.7 527.6,1968.8 520.9,1977.1 516.3,1966.2 512.4,1977.0 505.9,1972.6 498.2,1974.1 491.1,1983.8 485.9,1985.3 481.8,1986.6 479.1,1980.2 474.0,1989.6 470.0,1987.0" fill="#00ad4e"/>
<polygon points="718.0,1898.2 722.3,1900.4 730.3,1892.7 733.1,1888.4 736.5,1885.3 742.4,1886.9 746.4,1875.7 751.6,1882.2 757.9,1880.5 761.0,1871.4 764.3,1872.0 767.8,1865.1 774.3,1864.9 780.1,1858.5 788.2,1851.3 792.4,1839.3 797.6,1845.8 800.9,1847.1 808.8,1840.2 815.2,1845.8 821.2,1833.8 824.5,1844.5 831.5,1837.2 838.7,1833.7 841.7,1827.6 844.7,1833.8 852.1,1831.1 857.5,1820.3 864.1,1818.5 871.9,1812.6 878.7,1804.7 881.8,1814.3 885.1,1800.7 891.5,1796.7 897.4,1800.5 904.8,1788.3 911.3,1796.4 915.3,1786.6 921.2,1794.0 927.0,1783.8 934.9,1780.9 942.8,1775.9 948.1,1766.0 953.0,1764.9 959.1,1750.3 964.3,1756.7 969.2,1742.0 972.5,1737.6 975.8,1743.0 981.2,1732.2 985.8,1729.8 991.1,1725.5 997.7,1726.6 1000.9,1720.5 1004.7,1714.2 1011.5,1703.9 1015.6,1710.5 1019.9,1701.1 1027.4,1705.8 1029.8,1702.4 1034.2,1705.0 1037.5,1696.1 1045.4,1697.8 1053.2,1686.9 1060.7,1686.1 1065.9,1682.2 1071.5,1683.3 1077.3,1684.7 1083.8,1673.1 1090.7,1676.4 1098.0,1664.5 1103.8,1673.6 1106.4,1670.4 1112.9,1660.1 1117.6,1661.3 1122.8,1660.2 1129.5,1652.8 1137.1,1656.8 1143.3,1648.4 1149.2,1649.9 1157.2,1644.8 1159.6,1638.4 1166.0,1645.7 1168.9,1634.3 1174.4,1640.5 1178.1,1634.2 1182.5,1636.4 1189.6,1627.0 1193.8,1622.7 1201.3,1617.5 1207.2,1620.5 1214.8,1612.1 1220.7,1614.0 1226.5,1608.8 1232.0,1597.5 1239.6,1600.6 1241.9,1596.8 1244.8,1598.5 1248.3,1598.3 1255.8,1583.6 1263.7,1577.6 1267.0,1570.3 1270.9,1570.5 1275.9,1557.0 1279.5,1564.3 1283.0,1554.9 1286.3,1555.5 1293.3,1541.6 1296.3,1551.7 1302.1,1536.3 1309.3,1539.6 1312.9,1531.8 1317.6,1538.4 1320.0,1534.8 1322.9,1524.6 1327.7,1526.1 1333.6,1531.8 1337.0,1516.0 1344.6,1521.5 1350.2,1517.9 1358.3,1509.7 1363.4,1512.8 1369.1,1502.0 1375.3,1502.1 1381.3,1493.2 1387.0,1494.7 1392.8,1487.9 1396.6,1493.4 1403.1,1482.6 1409.7,1485.3 1415.5,1475.9 1419.8,1478.1 1424.1,1466.4 1428.0,1472.5 1430.5,1463.6 1435.9,1468.2 1443.3,1468.3 1448.7,1459.3 1456.7,1457.8 1462.4,1445.6 1464.8,1455.7 1470.6,1441.9 1473.0,1446.4 1477.3,1438.8 1485.4,1438.7 1492.6,1427.2 1497.2,1430.3 1500.5,1433.0 1503.2,1423.0 1506.2,1421.3 1509.8,1429.6 1517.0,1423.6 1521.3,1413.3 1528.6,1410.6 1536.3,1413.8 1544.4,1404.7 1548.5,1409.5 1555.2,1400.5 1561.4,1402.1 1564.5,1390.5 1571.3,1395.1 1577.2,1389.1 1580.1,1387.5 1584.8,1392.8 1588.8,1383.8 1593.9,1387.2 1597.5,1377.1 1600.8,1379.7 1602.0,1378.2 1602.0,1382.8 1600.8,1384.3 1597.5,1381.1 1593.9,1391.2 1588.8,1387.8 1584.8,1399.5 1580.1,1393.1 1577.2,1402.3 1571.3,1399.1 1564.5,1411.0 1561.4,1406.1 1555.2,1409.3 1548.5,1413.5 1544.4,1419.0 1536.3,1417.8 1528.6,1418.6 1521.3,1435.7 1517.0,1427.6 1509.8,1441.4 1506.2,1434.7 1503.2,1443.2 1500.5,1439.0 1497.2,1449.5 1492.6,1448.4 1485.4,1450.8 1477.3,1449.0 1473.0,1450.4 1470.6,1462.1 1464.8,1462.6 1462.4,1453.5 1456.7,1469.3 1448.7,1463.3 1443.3,1474.4 1435.9,1479.6 1430.5,1482.8 1428.0,1476.5 1424.1,1483.4 1419.8,1488.4 1415.5,1488.6 1409.7,1493.9 1403.1,1494.7 1396.6,1497.4 1392.8,1500.1 1387.0,1498.7 1381.3,1512.3 1375.3,1506.1 1369.1,1511.0 1363.4,1516.8 1358.3,1516.7 1350.2,1529.1 1344.6,1525.5 1337.0,1536.8 1333.6,1536.8 1327.7,1544.9 1322.9,1540.4 1320.0,1549.7 1317.6,1548.0 1312.9,1558.7 1309.3,1552.7 1302.1,1560.3 1296.3,1556.8 1293.3,1565.2 1286.3,1575.5 1283.0,1567.8 1279.5,1576.4 1275.9,1588.2 1270.9,1580.5 1267.0,1595.1 1263.7,1586.6 1255.8,1605.3 1248.3,1602.6 1244.8,1605.3 1241.9,1615.9 1239.6,1616.8 1232.0,1613.5 1226.5,1625.7 1220.7,1618.9 1214.8,1626.4 1207.2,1626.8 1201.3,1638.5 1193.8,1632.7 1189.6,1637.2 1182.5,1644.9 1178.1,1639.4 1174.4,1652.7 1168.9,1656.3 1166.0,1651.4 1159.6,1662.6 1157.2,1655.1 1149.2,1665.2 1143.3,1659.5 1137.1,1674.8 1129.5,1669.6 1122.8,1677.4 1117.6,1676.3 1112.9,1681.5 1106.4,1680.5 1103.8,1690.8 1098.0,1686.8 1090.7,1689.1 1083.8,1701.8 1077.3,1704.6 1071.5,1706.3 1065.9,1716.3 1060.7,1707.6 1053.2,1706.8 1045.4,1705.1 1037.5,1718.0 1034.2,1718.3 1029.8,1715.4 1027.4,1714.6 1019.9,1705.1 1015.6,1714.5 1011.5,1713.1 1004.7,1726.7 1000.9,1724.5 997.7,1730.6 991.1,1742.8 985.8,1738.3 981.2,1748.9 975.8,1747.4 972.5,1760.7 969.2,1756.6 964.3,1766.6 959.1,1765.5 953.0,1780.7 948.1,1783.3 942.8,1787.2 934.9,1795.7 927.0,1805.4 921.2,1802.7 915.3,1811.0 911.3,1812.9 904.8,1809.5 897.4,1822.9 891.5,1821.8 885.1,1828.5 881.8,1821.3 878.7,1829.3 871.9,1826.6 864.1,1839.7 857.5,1841.7 852.1,1841.6 844.7,1846.9 841.7,1852.5 838.7,1847.2 831.5,1855.3 824.5,1851.1 821.2,1859.5 815.2,1852.2 808.8,1858.2 800.9,1851.1 797.6,1856.6 792.4,1848.0 788.2,1860.7 780.1,1862.5 774.3,1874.5 767.8,1878.6 764.3,1878.2 761.0,1881.4 757.9,1884.5 751.6,1899.9 746.4,1897.8 742.4,1900.0 736.5,1902.1 733.1,1905.4 730.3,1901.7 722.3,1913.4 718.0,1911.8" fill="#00ad4e"/>
<polygon points="450.0,1977.2 453.7,1977.2 457.3,1976.7 460.7,1964.3 463.0,1971.7 468.7,1958.0 472.0,1967.0 478.5,1953.2 481.2,1956.7 484.1,1956.2 490.0,1948.5 495.9,1947.1 499.8,1947.2 502.9,1939.9 510.1,1944.2 516.0,1933.4 521.0,1935.4 524.1,1922.0 528.3,1924.5 534.1,1915.8 537.2,1921.6 542.7,1922.3 550.1,1909.8 554.7,1906.0 560.1,1905.6 564.7,1903.4 567.7,1894.8 573.1,1886.4 575.9,1895.0 583.4,1892.5 591.0,1880.6 598.7,1883.8 606.0,1874.3 609.7,1881.8 615.5,1866.6 622.1,1871.4 626.9,1864.0 633.2,1863.8 639.2,1866.6 641.8,1861.3 644.4,1866.7 651.9,1869.2 659.4,1860.1 665.9,1866.4 671.2,1852.2 678.1,1845.7 685.7,1844.1 690.0,1843.2 690.0,1851.8 685.7,1856.7 678.1,1857.5 671.2,1876.4 665.9,1881.2 659.4,1880.4 651.9,1886.9 644.4,1880.4 641.8,1875.9 639.2,1884.3 633.2,1881.8 626.9,1881.4 622.1,1880.4 615.5,1887.8 609.7,1894.7 606.0,1886.5 598.7,1896.3 591.0,1912.7 583.4,1915.5 575.9,1917.8 573.1,1922.0 567.7,1934.1 564.7,1921.5 560.1,1932.8 554.7,1922.9 550.1,1920.4 542.7,1938.6 537.2,1942.6 534.1,1941.9 528.3,1947.5 524.1,1950.7 521.0,1957.3 516.0,1967.1 510.1,1963.8 502.9,1974.3 499.8,1972.3 495.9,1975.6 490.0,1972.9 484.1,1970.1 481.2,1975.7 478.5,1979.0 472.0,1973.7 468.7,1981.2 463.0,1975.7 460.7,1985.3 457.3,1980.7 453.7,1987.7 450.0,1986.8" fill="#ffff00"/>
<polygon points="545.0,1980.2 548.3,1982.4 552.9,1972.4 556.4,1968.9 560.0,1977.4 564.6,1965.0 567.4,1967.9 574.0,1967.0 577.6,1969.7 580.7,1966.2 585.6,1961.0 590.6,1965.3 595.2,1962.2 603.2,1951.8 610.9,1945.8 618.2,1932.6 623.8,1928.4 626.8,1932.7 633.1,1925.7 636.7,1927.5 642.2,1914.7 645.3,1911.3 651.6,1899.2 655.1,1901.1 662.8,1881.7 669.6,1885.4 675.1,1875.7 678.0,1865.1 681.5,1868.8 686.3,1857.3 692.7,1859.2 697.7,1849.7 705.2,1849.4 710.7,1853.5 714.5,1847.8 717.9,1850.7 720.5,1849.9 727.5,1840.3 735.0,1828.9 742.1,1824.4 749.6,1823.3 756.8,1819.4 761.9,1806.3 766.5,1804.6 772.2,1796.6 779.9,1793.3 783.3,1787.2 791.1,1776.0 797.6,1772.0 800.6,1767.3 803.1,1759.3 806.2,1763.5 813.6,1751.0 817.6,1755.1 824.6,1745.0 830.9,1744.5 834.3,1742.3 838.5,1737.9 842.2,1742.4 845.1,1736.4 849.4,1734.2 855.7,1738.0 860.9,1738.5 866.3,1725.7 871.3,1725.6 877.3,1713.5 882.8,1713.2 885.9,1700.5 888.7,1696.5 892.9,1702.5 899.3,1691.8 906.2,1682.1 911.6,1669.5 918.8,1663.2 925.0,1652.2 932.0,1658.3 937.9,1647.9 945.3,1650.6 949.4,1641.1 953.1,1651.2 959.1,1641.4 965.1,1647.1 970.5,1635.7 974.2,1641.9 980.9,1632.0 986.9,1609.5 991.9,1604.6 997.4,1602.6 1001.3,1587.0 1005.9,1583.6 1013.8,1560.0 1016.9,1565.4 1022.0,1555.0 1027.8,1547.5 1033.0,1541.3 1037.9,1541.3 1040.7,1530.4 1047.7,1524.4 1050.3,1531.5 1054.6,1526.0 1059.2,1515.7 1062.5,1514.9 1069.9,1510.2 1077.0,1494.4 1079.4,1502.5 1081.9,1500.6 1084.5,1498.1 1088.1,1489.7 1091.3,1478.9 1096.4,1477.9 1099.4,1470.2 1101.8,1474.7 1109.9,1456.3 1117.4,1451.6 1120.1,1437.7 1124.3,1441.3 1127.8,1423.5 1130.9,1428.8 1136.4,1411.8 1141.2,1402.3 1145.3,1404.5 1150.4,1389.3 1155.5,1389.1 1158.0,1385.1 1160.7,1383.9 1165.4,1371.6 1171.7,1374.3 1178.7,1358.3 1183.3,1357.2 1185.7,1350.2 1193.0,1351.0 1195.4,1341.2 1199.2,1343.4 1204.9,1332.3 1210.0,1324.6 1213.8,1324.3 1219.6,1315.1 1222.9,1313.8 1229.6,1301.5 1232.0,1304.9 1234.5,1306.2 1238.6,1292.4 1245.5,1292.4 1252.8,1276.2 1260.4,1278.2 1265.0,1267.5 1272.6,1254.7 1277.1,1259.4 1282.4,1242.7 1285.8,1244.9 1291.7,1236.4 1295.5,1227.1 1302.9,1221.6 1307.0,1224.8 1314.6,1210.0 1320.1,1202.0 1324.6,1204.2 1330.6,1188.0 1334.3,1181.4 1339.4,1186.2 1344.2,1173.3 1347.9,1171.4 1350.4,1160.3 1353.4,1169.7 1360.3,1157.7 1362.7,1147.7 1366.9,1149.9 1370.3,1148.8 1373.1,1143.0 1378.4,1128.4 1385.8,1104.4 1390.6,1081.9 1398.4,1077.9 1402.1,1075.9 1409.1,1057.5 1411.5,1060.9 1414.7,1053.3 1421.3,1063.9 1423.8,1059.4 1424.0,1063.2 1424.0,1116.8 1423.8,1118.4 1421.3,1115.9 1414.7,1137.1 1411.5,1131.0 1409.1,1136.8 1402.1,1140.7 1398.4,1137.7 1390.6,1133.5 1385.8,1146.7 1378.4,1154.2 1373.1,1174.7 1370.3,1168.8 1366.9,1181.7 1362.7,1186.0 1360.3,1178.0 1353.4,1190.3 1350.4,1197.4 1347.9,1201.4 1344.2,1202.7 1339.4,1210.8 1334.3,1209.9 1330.6,1218.9 1324.6,1233.5 1320.1,1229.0 1314.6,1244.9 1307.0,1247.2 1302.9,1261.6 1295.5,1268.2 1291.7,1266.4 1285.8,1281.5 1282.4,1284.8 1277.1,1281.3 1272.6,1296.0 1265.0,1293.9 1260.4,1306.3 1252.8,1314.2 1245.5,1324.7 1238.6,1328.1 1234.5,1339.7 1232.0,1337.6 1229.6,1347.3 1222.9,1345.4 1219.6,1354.5 1213.8,1356.8 1210.0,1372.0 1204.9,1373.4 1199.2,1375.7 1195.4,1386.3 1193.0,1383.1 1185.7,1397.9 1183.3,1390.1 1178.7,1402.8 1171.7,1399.2 1165.4,1407.2 1160.7,1412.1 1158.0,1423.6 1155.5,1424.5 1150.4,1428.9 1145.3,1435.0 1141.2,1432.7 1136.4,1450.3 1130.9,1454.8 1127.8,1451.8 1124.3,1467.6 1120.1,1465.9 1117.4,1470.8 1109.9,1479.4 1101.8,1497.2 1099.4,1515.0 1096.4,1514.2 1091.3,1531.2 1088.1,1531.5 1084.5,1543.7 1081.9,1538.8 1079.4,1539.6 1077.0,1537.6 1069.9,1546.9 1062.5,1559.4 1059.2,1561.2 1054.6,1558.8 1050.3,1566.9 1047.7,1559.3 1040.7,1576.7 1037.9,1569.7 1033.0,1580.4 1027.8,1579.6 1022.0,1582.1 1016.9,1588.2 1013.8,1599.4 1005.9,1603.3 1001.3,1614.2 997.4,1617.1 991.9,1633.6 986.9,1636.5 980.9,1642.0 974.2,1660.6 970.5,1666.5 965.1,1670.7 959.1,1672.3 953.1,1680.8 949.4,1680.9 945.3,1696.4 937.9,1692.0 932.0,1702.7 925.0,1693.3 918.8,1703.6 911.6,1708.2 906.2,1723.0 899.3,1727.0 892.9,1735.7 888.7,1749.0 885.9,1744.1 882.8,1758.7 877.3,1756.5 871.3,1770.4 866.3,1766.8 860.9,1772.4 855.7,1780.3 849.4,1779.6 845.1,1790.0 842.2,1783.4 838.5,1792.9 834.3,1789.0 830.9,1794.6 824.6,1791.1 817.6,1793.4 813.6,1787.8 806.2,1799.6 803.1,1792.1 800.6,1795.2 797.6,1788.3 791.1,1796.0 783.3,1794.2 779.9,1803.5 772.2,1804.2 766.5,1819.5 761.9,1814.1 756.8,1825.2 749.6,1827.3 742.1,1831.5 735.0,1848.0 727.5,1856.9 720.5,1863.7 717.9,1861.2 714.5,1868.1 710.7,1860.3 705.2,1873.0 697.7,1874.2 692.7,1883.2 686.3,1876.4 681.5,1887.3 678.0,1882.4 675.1,1896.1 669.6,1890.0 662.8,1904.5 655.1,1905.1 651.6,1914.3 645.3,1924.3 642.2,1920.4 636.7,1931.5 633.1,1937.2 626.8,1936.7 623.8,1940.7 618.2,1945.8 610.9,1949.8 603.2,1968.0 595.2,1966.2 590.6,1971.5 585.6,1981.6 580.7,1972.5 577.6,1979.9 574.0,1977.0 567.4,1984.9 564.6,1989.7 560.0,1981.4 556.4,1989.3 552.9,1979.0 548.3,1986.4 545.0,1986.8" fill="#ffff00"/>
<polygon points="440.0,1978.2 444.1,1976.2 450.7,1964.9 453.6,1965.4 457.5,1955.6 462.8,1955.5 467.2,1949.6 472.2,1940.9 478.0,1947.4 481.2,1952.6 487.5,1952.5 491.3,1946.0 496.3,1949.9 503.3,1944.8 507.3,1951.2 515.2,1942.4 519.9,1955.9 526.0,1954.2 533.4,1945.8 540.8,1943.9 543.3,1942.4 546.7,1936.6 554.6,1932.9 558.7,1927.6 563.2,1925.4 569.5,1911.8 575.4,1917.0 581.8,1906.8 588.4,1895.4 594.0,1887.3 598.0,1890.6 604.6,1885.4 609.8,1890.8 613.8,1883.0 618.2,1874.9 622.8,1878.3 627.4,1876.2 633.9,1873.7 640.6,1869.3 643.7,1874.2 651.6,1869.0 654.2,1861.9 660.7,1865.8 668.5,1853.8 673.6,1859.7 678.9,1856.4 683.5,1845.8 688.1,1848.7 695.6,1840.7 700.0,1841.2 700.0,1848.8 695.6,1853.8 688.1,1852.7 683.5,1860.2 678.9,1863.4 673.6,1863.7 668.5,1867.5 660.7,1869.8 654.2,1867.3 651.6,1873.0 643.7,1878.2 640.6,1883.3 633.9,1877.7 627.4,1884.3 622.8,1882.3 618.2,1882.3 613.8,1889.2 609.8,1894.8 604.6,1890.6 598.0,1894.6 594.0,1894.3 588.4,1907.5 581.8,1910.8 575.4,1922.9 569.5,1923.1 563.2,1940.3 558.7,1938.4 554.6,1948.0 546.7,1947.1 543.3,1951.9 540.8,1956.8 533.4,1959.3 526.0,1958.9 519.9,1968.0 515.2,1967.4 507.3,1955.2 503.3,1963.0 496.3,1966.3 491.3,1960.6 487.5,1966.2 481.2,1960.2 478.0,1966.7 472.2,1961.6 467.2,1968.8 462.8,1975.2 457.5,1968.6 453.6,1980.5 450.7,1984.9 444.1,1980.2 440.0,1986.8" fill="#ff0000"/>
<polygon points="545.0,1978.2 551.6,1975.1 558.0,1965.3 565.0,1959.9 570.4,1953.4 574.8,1960.8 581.8,1945.3 585.9,1947.2 593.4,1939.7 599.2,1942.6 603.1,1929.4 606.2,1938.0 611.2,1922.8 615.3,1925.7 618.8,1926.9 621.4,1913.7 624.2,1914.0 631.9,1910.5 639.8,1907.5 646.3,1888.7 650.3,1893.4 652.8,1878.9 659.9,1877.0 664.6,1863.5 672.0,1865.6 677.0,1856.2 682.3,1844.9 685.5,1853.0 691.9,1839.0 696.7,1842.8 698.9,1839.0 703.8,1836.7 711.8,1824.4 715.3,1834.0 720.6,1821.9 726.3,1817.7 732.6,1822.4 735.7,1814.0 743.5,1811.9 747.3,1802.9 754.4,1803.8 759.7,1789.3 765.9,1779.9 768.9,1781.3 773.5,1772.0 777.5,1764.8 780.7,1762.6 783.3,1765.9 787.5,1760.7 794.0,1752.7 796.4,1742.3 802.2,1744.9 808.6,1730.0 811.4,1735.3 818.4,1730.7 824.6,1712.2 830.9,1715.1 838.4,1713.7 844.2,1709.5 847.4,1694.5 853.0,1691.3 857.6,1695.4 861.8,1687.1 868.6,1688.8 870.8,1675.0 877.4,1670.7 879.7,1674.2 884.0,1660.6 886.6,1667.4 891.3,1649.8 894.9,1656.9 901.1,1642.3 905.8,1644.7 912.2,1626.2 915.6,1627.1 918.5,1618.9 922.0,1617.3 927.6,1622.9 933.0,1624.7 940.7,1613.8 943.7,1608.1 951.1,1603.1 958.3,1610.1 965.6,1597.3 968.1,1606.5 974.2,1598.6 976.8,1597.2 984.5,1574.2 987.6,1575.5 992.3,1559.5 996.6,1552.7 999.4,1556.2 1004.4,1545.7 1010.1,1529.4 1013.2,1529.1 1016.0,1520.2 1018.5,1519.0 1022.7,1508.6 1030.1,1509.0 1033.3,1507.1 1038.4,1500.4 1043.7,1488.4 1048.4,1493.0 1056.0,1479.4 1060.3,1486.4 1064.5,1481.5 1072.5,1465.1 1075.2,1467.3 1081.9,1454.2 1087.8,1453.3 1093.7,1452.9 1098.9,1434.8 1103.6,1429.2 1107.3,1435.0 1113.0,1430.6 1117.5,1420.7 1123.5,1423.1 1130.1,1404.6 1136.0,1404.9 1141.4,1390.7 1144.1,1393.2 1148.9,1379.7 1153.7,1382.0 1157.7,1370.0 1162.1,1368.2 1166.7,1351.0 1172.4,1352.0 1178.8,1342.4 1185.2,1327.6 1191.3,1328.2 1193.8,1319.8 1201.1,1318.4 1207.8,1304.4 1211.3,1306.7 1218.9,1294.8 1226.1,1299.1 1229.4,1285.5 1232.1,1287.0 1234.7,1286.9 1241.9,1273.3 1244.4,1268.6 1251.3,1274.8 1256.0,1260.1 1261.0,1263.5 1265.0,1251.6 1271.2,1251.0 1279.2,1248.1 1284.9,1236.7 1289.7,1237.5 1294.8,1230.2 1300.2,1229.9 1305.6,1221.7 1309.7,1224.7 1316.2,1219.0 1321.2,1211.2 1325.3,1211.7 1330.5,1197.9 1336.9,1198.3 1343.1,1196.3 1348.1,1183.8 1356.2,1184.0 1358.9,1173.5 1364.0,1172.9 1368.2,1164.1 1376.1,1168.8 1383.8,1153.5 1388.7,1151.9 1396.7,1146.1 1403.9,1137.9 1408.6,1124.8 1414.6,1122.3 1421.6,1109.4 1425.2,1107.5 1426.0,1106.2 1426.0,1148.8 1425.2,1147.7 1421.6,1157.7 1414.6,1148.5 1408.6,1164.0 1403.9,1163.6 1396.7,1158.0 1388.7,1176.2 1383.8,1169.8 1376.1,1191.7 1368.2,1197.2 1364.0,1204.9 1358.9,1207.4 1356.2,1217.2 1348.1,1219.7 1343.1,1234.2 1336.9,1232.9 1330.5,1242.1 1325.3,1243.4 1321.2,1251.5 1316.2,1251.2 1309.7,1261.4 1305.6,1263.1 1300.2,1275.9 1294.8,1286.3 1289.7,1293.8 1284.9,1291.3 1279.2,1299.5 1271.2,1319.4 1265.0,1320.4 1261.0,1335.9 1256.0,1331.9 1251.3,1344.1 1244.4,1349.7 1241.9,1353.0 1234.7,1365.2 1232.1,1361.4 1229.4,1377.3 1226.1,1371.4 1218.9,1387.9 1211.3,1397.5 1207.8,1401.0 1201.1,1397.8 1193.8,1417.1 1191.3,1419.5 1185.2,1424.8 1178.8,1419.2 1172.4,1426.0 1166.7,1429.0 1162.1,1431.7 1157.7,1440.8 1153.7,1448.3 1148.9,1444.6 1144.1,1450.3 1141.4,1450.5 1136.0,1454.7 1130.1,1461.3 1123.5,1459.0 1117.5,1475.2 1113.0,1469.2 1107.3,1486.7 1103.6,1490.3 1098.9,1490.1 1093.7,1491.2 1087.8,1501.6 1081.9,1502.6 1075.2,1511.3 1072.5,1506.8 1064.5,1515.0 1060.3,1520.9 1056.0,1530.8 1048.4,1527.2 1043.7,1540.0 1038.4,1537.8 1033.3,1550.0 1030.1,1541.7 1022.7,1556.2 1018.5,1553.7 1016.0,1556.1 1013.2,1558.4 1010.1,1563.6 1004.4,1578.0 999.4,1595.6 996.6,1587.7 992.3,1604.3 987.6,1608.1 984.5,1617.9 976.8,1622.4 974.2,1634.4 968.1,1634.3 965.6,1638.4 958.3,1637.3 951.1,1642.4 943.7,1643.0 940.7,1639.3 933.0,1654.3 927.6,1654.9 922.0,1644.6 918.5,1649.0 915.6,1652.8 912.2,1661.8 905.8,1661.3 901.1,1678.0 894.9,1680.2 891.3,1697.2 886.6,1694.7 884.0,1696.8 879.7,1706.7 877.4,1713.9 870.8,1715.3 868.6,1728.3 861.8,1732.6 857.6,1729.1 853.0,1737.5 847.4,1729.4 844.2,1738.7 838.4,1733.7 830.9,1742.4 824.6,1746.1 818.4,1751.0 811.4,1751.9 808.6,1766.3 802.2,1768.8 796.4,1765.6 794.0,1778.9 787.5,1774.9 783.3,1779.8 780.7,1793.7 777.5,1786.3 773.5,1788.5 768.9,1798.2 765.9,1798.9 759.7,1812.4 754.4,1813.7 747.3,1836.8 743.5,1831.2 735.7,1842.4 732.6,1847.1 726.3,1843.0 720.6,1856.1 715.3,1848.3 711.8,1863.9 703.8,1863.8 698.9,1871.5 696.7,1866.1 691.9,1877.1 685.5,1876.4 682.3,1887.9 677.0,1893.3 672.0,1888.1 664.6,1899.4 659.9,1892.8 652.8,1909.7 650.3,1909.7 646.3,1909.9 639.8,1927.6 631.9,1927.6 624.2,1927.5 621.4,1934.6 618.8,1930.9 615.3,1941.1 611.2,1931.7 606.2,1945.2 603.1,1948.5 599.2,1946.6 593.4,1956.2 585.9,1959.1 581.8,1966.3 574.8,1967.4 570.4,1971.4 565.0,1973.3 558.0,1985.4 551.6,1979.1 545.0,1986.8" fill="#ff0000"/>
<polygon points="416.0,1981.2 422.3,1975.5 429.7,1970.5 435.5,1963.3 441.0,1966.0 446.7,1961.3 454.2,1955.9 459.1,1957.6 463.3,1955.5 467.9,1947.6 472.4,1957.0 479.4,1944.0 487.2,1947.5 494.9,1943.6 498.8,1947.5 503.3,1938.8 510.4,1936.6 514.6,1928.2 519.9,1929.1 524.1,1920.9 526.7,1921.1 530.1,1910.3 537.6,1909.7 545.0,1897.3 547.3,1902.1 552.6,1895.2 560.5,1895.9 565.2,1890.3 568.8,1882.9 573.5,1890.7 577.4,1879.7 585.4,1873.3 588.2,1878.1 593.0,1868.8 599.3,1874.1 605.3,1870.4 611.7,1863.9 616.5,1868.6 619.8,1858.8 622.8,1852.6 625.8,1850.5 628.2,1855.6 631.5,1848.4 637.9,1845.5 642.0,1837.2 647.6,1841.5 651.1,1832.8 653.4,1835.1 657.9,1830.6 660.0,1831.2 660.0,1838.8 657.9,1837.7 653.4,1846.0 651.1,1839.1 647.6,1849.7 642.0,1852.9 637.9,1849.5 631.5,1859.2 628.2,1859.6 625.8,1868.7 622.8,1869.0 619.8,1864.8 616.5,1872.6 611.7,1868.0 605.3,1874.4 599.3,1881.0 593.0,1877.8 588.2,1882.1 585.4,1891.7 577.4,1885.5 573.5,1894.7 568.8,1898.4 565.2,1894.3 560.5,1902.3 552.6,1899.2 547.3,1906.1 545.0,1901.3 537.6,1913.7 530.1,1926.9 526.7,1925.1 524.1,1936.6 519.9,1933.1 514.6,1933.6 510.4,1945.5 503.3,1942.8 498.8,1954.1 494.9,1948.4 487.2,1955.5 479.4,1950.7 472.4,1961.0 467.9,1958.9 463.3,1959.5 459.1,1962.7 454.2,1972.6 446.7,1966.5 441.0,1970.0 435.5,1978.6 429.7,1976.0 422.3,1979.5 416.0,1986.8" fill="#000000"/>
<polygon points="520.0,1975.2 526.1,1973.0 530.2,1976.7 536.2,1962.8 541.5,1967.5 545.4,1965.8 551.5,1958.1 558.5,1963.5 566.4,1959.0 571.6,1959.7 575.7,1952.7 580.7,1960.8 587.7,1949.7 593.8,1955.0 598.9,1950.1 601.6,1950.6 608.5,1938.4 614.1,1934.4 618.0,1931.4 623.3,1928.1 628.8,1924.6 632.0,1918.1 640.1,1909.5 646.9,1894.5 650.8,1899.9 654.6,1888.6 662.5,1887.5 667.2,1878.2 671.4,1881.2 678.4,1875.1 681.6,1856.5 684.7,1861.7 689.9,1853.3 692.4,1845.2 699.4,1833.9 706.7,1826.9 712.6,1831.5 720.6,1822.3 726.3,1809.7 730.4,1799.2 733.2,1803.4 737.8,1790.6 742.2,1782.5 747.2,1784.5 751.3,1771.4 757.2,1778.8 762.3,1765.1 765.9,1769.2 770.7,1750.1 775.3,1753.3 779.2,1741.3 784.6,1743.4 787.2,1730.3 790.7,1733.4 795.4,1726.8 801.6,1718.6 804.5,1718.9 811.2,1705.3 817.3,1692.7 825.2,1680.1 830.3,1680.6 833.9,1668.0 841.1,1670.5 844.7,1661.4 848.4,1659.0 852.4,1658.8 859.0,1647.0 861.3,1640.3 865.2,1632.5 871.6,1638.0 878.9,1621.5 882.8,1621.8 888.9,1625.9 893.8,1610.9 898.6,1607.7 902.9,1606.8 910.1,1587.1 913.9,1592.8 919.7,1577.6 926.3,1574.2 933.7,1557.3 938.9,1560.0 942.9,1546.8 949.6,1541.9 951.9,1534.7 954.5,1542.4 957.2,1535.3 961.1,1534.7 968.4,1520.2 972.0,1525.1 979.7,1508.5 986.2,1506.4 992.5,1495.2 1000.4,1479.5 1005.6,1467.8 1013.3,1449.6 1016.1,1449.9 1019.9,1440.8 1026.9,1439.5 1033.0,1434.3 1039.5,1421.1 1042.8,1428.8 1048.1,1424.0 1052.2,1408.7 1054.8,1418.5 1061.6,1412.7 1065.6,1403.4 1068.5,1404.9 1074.0,1394.2 1079.0,1398.0 1082.1,1386.2 1088.3,1386.1 1095.0,1377.7 1102.7,1374.2 1108.6,1366.4 1114.6,1365.0 1119.9,1358.3 1123.5,1352.7 1130.0,1351.3 1137.1,1346.0 1140.7,1333.4 1146.2,1334.0 1150.1,1329.2 1158.0,1311.6 1162.5,1313.9 1170.4,1301.3 1177.8,1303.1 1183.9,1293.2 1186.3,1293.2 1188.6,1288.0 1193.5,1289.3 1198.7,1273.7 1205.5,1268.3 1211.6,1269.0 1216.3,1263.8 1219.1,1250.6 1226.5,1243.3 1229.5,1246.8 1232.3,1232.6 1236.3,1233.0 1239.9,1222.3 1247.9,1224.1 1250.9,1214.6 1257.5,1217.9 1263.2,1201.6 1269.8,1206.1 1273.2,1192.8 1281.1,1193.0 1284.7,1192.7 1292.6,1186.5 1300.5,1171.7 1302.8,1181.9 1308.6,1173.9 1314.0,1164.7 1319.4,1169.3 1323.7,1164.1 1328.1,1149.2 1331.3,1148.9 1334.4,1135.0 1341.3,1130.9 1344.1,1124.5 1350.5,1124.2 1355.0,1110.1 1361.9,1112.3 1366.1,1105.2 1374.2,1104.2 1377.0,1107.2 1377.0,1141.8 1374.2,1145.9 1366.1,1144.7 1361.9,1158.5 1355.0,1156.2 1350.5,1166.5 1344.1,1165.0 1341.3,1173.6 1334.4,1173.1 1331.3,1186.0 1328.1,1182.0 1323.7,1199.9 1319.4,1196.3 1314.0,1203.9 1308.6,1204.9 1302.8,1206.7 1300.5,1207.5 1292.6,1220.6 1284.7,1233.3 1281.1,1225.0 1273.2,1242.9 1269.8,1237.3 1263.2,1256.5 1257.5,1255.1 1250.9,1264.9 1247.9,1260.7 1239.9,1277.0 1236.3,1273.6 1232.3,1280.6 1229.5,1282.7 1226.5,1291.2 1219.1,1295.7 1216.3,1304.6 1211.6,1303.5 1205.5,1311.9 1198.7,1311.8 1193.5,1323.9 1188.6,1324.7 1186.3,1335.4 1183.9,1336.1 1177.8,1347.7 1170.4,1360.4 1162.5,1377.2 1158.0,1374.7 1150.1,1387.4 1146.2,1384.5 1140.7,1401.6 1137.1,1397.7 1130.0,1412.5 1123.5,1413.2 1119.9,1421.0 1114.6,1421.5 1108.6,1433.5 1102.7,1427.4 1095.0,1444.4 1088.3,1448.2 1082.1,1451.1 1079.0,1459.9 1074.0,1455.7 1068.5,1472.1 1065.6,1468.5 1061.6,1476.0 1054.8,1487.7 1052.2,1478.0 1048.1,1486.2 1042.8,1496.9 1039.5,1495.4 1033.0,1505.2 1026.9,1508.8 1019.9,1522.6 1016.1,1516.9 1013.3,1518.4 1005.6,1539.8 1000.4,1538.0 992.5,1557.1 986.2,1558.2 979.7,1566.1 972.0,1572.9 968.4,1579.5 961.1,1574.8 957.2,1591.2 954.5,1581.6 951.9,1592.1 949.6,1594.1 942.9,1592.5 938.9,1596.6 933.7,1610.0 926.3,1612.9 919.7,1613.2 913.9,1625.5 910.1,1632.6 902.9,1648.0 898.6,1643.8 893.8,1654.1 888.9,1663.1 882.8,1664.2 878.9,1671.6 871.6,1682.4 865.2,1678.2 861.3,1689.5 859.0,1695.9 852.4,1693.0 848.4,1704.0 844.7,1699.3 841.1,1702.9 833.9,1718.1 830.3,1715.3 825.2,1725.8 817.3,1724.7 811.2,1735.9 804.5,1734.4 801.6,1743.1 795.4,1745.9 790.7,1752.6 787.2,1760.5 784.6,1754.6 779.2,1771.4 775.3,1774.6 770.7,1775.1 765.9,1777.8 762.3,1785.8 757.2,1797.1 751.3,1806.6 747.2,1805.2 742.2,1824.2 737.8,1816.3 733.2,1824.3 730.4,1832.1 726.3,1828.6 720.6,1842.8 712.6,1844.8 706.7,1858.1 699.4,1870.0 692.4,1877.5 689.9,1886.5 684.7,1882.8 681.6,1897.5 678.4,1888.6 671.4,1902.3 667.2,1896.4 662.5,1904.0 654.6,1901.8 650.8,1903.9 646.9,1908.0 640.1,1927.7 632.0,1926.4 628.8,1936.1 623.3,1934.4 618.0,1948.0 614.1,1945.5 608.5,1953.2 601.6,1961.1 598.9,1959.3 593.8,1965.1 587.7,1958.6 580.7,1964.8 575.7,1972.5 571.6,1966.5 566.4,1973.4 558.5,1974.5 551.5,1971.5 545.4,1974.0 541.5,1986.9 536.2,1982.5 530.2,1989.6 526.1,1980.2 520.0,1986.8" fill="#000000"/>
<polygon points="389.0,1963.2 395.4,1958.0 400.4,1961.2 407.8,1944.2 413.2,1948.9 415.6,1939.2 422.4,1943.5 427.5,1933.2 433.9,1927.6 437.3,1928.7 444.9,1930.4 450.0,1929.2 455.9,1926.7 461.6,1931.8 468.0,1930.9 473.7,1924.2 476.1,1923.4 481.9,1931.9 489.3,1921.3 497.1,1923.1 503.2,1914.0 508.1,1907.9 514.8,1910.6 521.6,1902.6 523.9,1904.8 529.1,1894.0 534.5,1904.3 539.4,1896.9 543.7,1889.4 547.0,1888.9 553.8,1878.4 557.8,1881.0 560.4,1881.7 562.8,1869.0 569.2,1868.0 571.5,1854.8 578.1,1861.2 584.0,1861.2 590.5,1851.2 597.8,1852.7 603.4,1842.4 608.5,1846.1 613.0,1836.7 617.1,1844.4 621.1,1831.3 628.6,1834.6 632.1,1825.7 639.7,1827.3 644.6,1823.4 646.9,1820.9 653.4,1803.3 659.8,1804.3 667.8,1793.3 670.5,1798.9 676.5,1796.0 684.4,1783.8 691.1,1780.9 699.0,1769.5 702.0,1766.4 705.5,1763.6 711.7,1753.0 714.7,1745.5 717.1,1749.0 724.8,1730.4 731.5,1726.7 737.9,1707.0 742.5,1711.4 747.6,1710.2 751.4,1700.1 756.3,1694.6 759.5,1696.2 767.5,1683.7 774.1,1673.8 778.6,1663.9 784.6,1659.2 787.9,1651.2 790.3,1655.0 796.2,1636.4 800.1,1636.8 804.0,1628.7 808.6,1631.3 816.7,1610.9 824.6,1607.9 831.4,1593.4 836.9,1598.4 844.1,1582.8 848.2,1586.0 855.8,1574.3 862.5,1561.1 866.4,1562.2 873.2,1541.2 878.0,1545.2 881.7,1529.2 886.1,1532.7 890.6,1520.6 893.6,1524.0 901.2,1502.8 907.0,1493.9 913.1,1489.9 915.5,1494.3 918.5,1481.2 924.3,1480.4 930.2,1468.3 937.5,1466.1 941.5,1451.5 945.0,1452.5 949.4,1446.4 957.3,1432.6 965.0,1427.8 967.5,1422.3 973.8,1418.0 979.4,1413.4 987.4,1400.0 993.1,1388.7 998.5,1386.2 1004.8,1373.8 1009.6,1372.5 1014.8,1367.6 1022.2,1353.9 1026.5,1348.4 1030.8,1345.8 1034.5,1340.2 1039.1,1341.9 1046.5,1324.9 1049.4,1328.8 1054.3,1324.1 1059.8,1310.7 1062.9,1311.8 1067.3,1301.4 1073.4,1301.9 1078.0,1288.7 1086.0,1284.9 1093.5,1264.8 1100.6,1259.1 1104.2,1260.4 1107.2,1250.6 1110.5,1259.3 1117.6,1246.3 1120.0,1242.9 1126.1,1244.2 1133.6,1225.6 1139.5,1230.0 1142.6,1228.2 1149.4,1210.0 1156.6,1208.0 1161.4,1204.3 1167.0,1191.3 1173.6,1192.2 1176.3,1187.1 1179.9,1182.0 1184.4,1181.4 1189.6,1166.2 1194.8,1157.7 1202.7,1152.1 1207.1,1135.0 1212.7,1131.5 1218.3,1129.5 1222.0,1121.7 1226.0,1118.2 1229.0,1105.1 1235.3,1108.6 1241.5,1102.8 1244.4,1092.5 1251.8,1079.1 1257.2,1082.0 1263.4,1074.1 1267.7,1072.5 1274.1,1060.7 1280.8,1061.7 1283.9,1050.0 1291.3,1047.7 1298.9,1038.3 1305.9,1029.4 1311.9,1020.7 1316.1,1005.4 1318.6,1009.6 1321.4,1004.0 1328.6,995.5 1330.0,1000.1 1330.0,1041.8 1328.6,1046.8 1321.4,1041.0 1318.6,1043.3 1316.1,1055.5 1311.9,1050.4 1305.9,1065.9 1298.9,1070.0 1291.3,1083.9 1283.9,1089.8 1280.8,1090.4 1274.1,1107.7 1267.7,1103.0 1263.4,1126.3 1257.2,1130.3 1251.8,1151.2 1244.4,1151.5 1241.5,1159.6 1235.3,1169.7 1229.0,1168.8 1226.0,1180.3 1222.0,1178.1 1218.3,1188.2 1212.7,1187.9 1207.1,1199.6 1202.7,1195.3 1194.8,1214.1 1189.6,1212.4 1184.4,1229.5 1179.9,1227.2 1176.3,1237.9 1173.6,1233.4 1167.0,1244.1 1161.4,1256.4 1156.6,1265.4 1149.4,1265.4 1142.6,1279.8 1139.5,1280.5 1133.6,1292.1 1126.1,1295.1 1120.0,1311.3 1117.6,1319.5 1110.5,1328.0 1107.2,1339.1 1104.2,1334.4 1100.6,1351.4 1093.5,1353.2 1086.0,1365.5 1078.0,1365.2 1073.4,1379.1 1067.3,1379.5 1062.9,1384.0 1059.8,1387.9 1054.3,1400.3 1049.4,1395.6 1046.5,1407.7 1039.1,1410.1 1034.5,1423.7 1030.8,1425.5 1026.5,1422.6 1022.2,1433.1 1014.8,1436.8 1009.6,1448.7 1004.8,1465.0 998.5,1471.7 993.1,1488.4 987.4,1489.0 979.4,1510.2 973.8,1517.7 967.5,1513.7 965.0,1521.2 957.3,1523.2 949.4,1531.1 945.0,1543.9 941.5,1536.1 937.5,1551.9 930.2,1550.1 924.3,1552.3 918.5,1561.1 915.5,1571.1 913.1,1567.2 907.0,1583.7 901.2,1576.7 893.6,1588.6 890.6,1601.4 886.1,1601.3 881.7,1602.0 878.0,1603.2 873.2,1611.4 866.4,1622.9 862.5,1623.7 855.8,1628.0 848.2,1640.8 844.1,1654.5 836.9,1655.4 831.4,1664.7 824.6,1680.2 816.7,1685.1 808.6,1700.0 804.0,1712.0 800.1,1706.5 796.2,1724.1 790.3,1729.2 787.9,1726.7 784.6,1738.6 778.6,1738.6 774.1,1743.5 767.5,1749.5 759.5,1768.8 756.3,1765.9 751.4,1767.6 747.6,1775.8 742.5,1772.6 737.9,1789.0 731.5,1793.3 724.8,1810.1 717.1,1813.3 714.7,1824.5 711.7,1825.6 705.5,1816.3 702.0,1818.1 699.0,1829.8 691.1,1830.8 684.4,1840.8 676.5,1852.0 670.5,1839.1 667.8,1841.5 659.8,1822.6 653.4,1836.2 646.9,1836.2 644.6,1831.1 639.7,1831.3 632.1,1844.9 628.6,1848.1 621.1,1853.0 617.1,1855.3 613.0,1858.7 608.5,1868.0 603.4,1870.5 597.8,1871.1 590.5,1885.0 584.0,1874.9 578.1,1881.6 571.5,1883.2 569.2,1888.5 562.8,1886.0 560.4,1898.4 557.8,1895.5 553.8,1895.7 547.0,1900.1 543.7,1911.5 539.4,1905.8 534.5,1916.4 529.1,1914.2 523.9,1919.7 521.6,1927.6 514.8,1925.9 508.1,1934.5 503.2,1940.0 497.1,1936.0 489.3,1933.9 481.9,1943.8 476.1,1943.9 473.7,1939.4 468.0,1938.1 461.6,1957.7 455.9,1960.4 450.0,1968.9 444.9,1957.7 437.3,1962.1 433.9,1967.0 427.5,1971.3 422.4,1976.2 415.6,1980.0 413.2,1986.1 407.8,1985.0 400.4,1981.9 395.4,1986.0 389.0,1986.8" fill="#7f5ea3"/>
<polygon points="530.0,1978.2 534.2,1967.1 541.1,1959.5 548.6,1931.2 556.1,1938.2 563.7,1933.2 566.5,1937.5 571.1,1932.9 575.9,1928.6 581.5,1918.1 586.4,1908.0 593.6,1905.1 597.3,1902.0 601.3,1899.5 604.6,1891.9 611.8,1877.9 614.4,1886.2 620.5,1871.8 623.7,1867.5 628.4,1866.1 633.7,1858.5 639.7,1858.8 647.7,1848.2 653.1,1846.7 657.0,1841.9 660.5,1839.3 666.8,1840.9 669.7,1825.8 674.5,1831.0 679.0,1823.2 679.0,1848.8 674.5,1853.4 669.7,1853.5 666.8,1861.0 660.5,1854.5 657.0,1860.8 653.1,1876.2 647.7,1882.7 639.7,1903.3 633.7,1901.0 628.4,1910.0 623.7,1908.6 620.5,1914.5 614.4,1918.6 611.8,1924.5 604.6,1944.3 601.3,1936.4 597.3,1952.0 593.6,1951.9 586.4,1949.0 581.5,1954.3 575.9,1963.5 571.1,1954.7 566.5,1964.4 563.7,1957.2 556.1,1966.5 548.6,1965.7 541.1,1976.0 534.2,1990.4 530.0,1986.8" fill="#7f5ea3"/>
<rect x="399.0" y="1967.6" width="4.3" height="9.9" fill="#f4eefa"/>
<rect x="406.3" y="1963.1" width="4.4" height="5.9" fill="#f4eefa"/>
<rect x="420.0" y="1954.1" width="4.5" height="8.1" fill="#f4eefa"/>
<rect x="426.3" y="1963.2" width="3.5" height="6.6" fill="#f4eefa"/>
<rect x="445.4" y="1942.7" width="3.5" height="6.2" fill="#f4eefa"/>
<rect x="827.0" y="1652.3" width="3.6" height="8.7" fill="#f4eefa"/>
<rect x="845.1" y="1617.2" width="3.8" height="5.1" fill="#f4eefa"/>
<rect x="855.5" y="1591.5" width="3.9" height="5.4" fill="#f4eefa"/>
<rect x="873.8" y="1586.4" width="3.3" height="8.0" fill="#f4eefa"/>
<rect x="936.8" y="1490.5" width="3.3" height="8.3" fill="#f4eefa"/>
<rect x="1006.9" y="1432.5" width="4.3" height="6.3" fill="#f4eefa"/>
<rect x="1009.1" y="1408.9" width="4.2" height="6.6" fill="#f4eefa"/>
<rect x="1035.5" y="1363.0" width="3.5" height="8.4" fill="#f4eefa"/>
<rect x="1045.6" y="1384.6" width="3.2" height="8.8" fill="#f4eefa"/>
<rect x="1050.4" y="1348.1" width="4.1" height="6.5" fill="#f4eefa"/>
<rect x="1052.2" y="1373.1" width="3.4" height="6.0" fill="#f4eefa"/>
<rect x="1087.7" y="1308.2" width="2.8" height="5.9" fill="#f4eefa"/>
<rect x="1105.5" y="1290.0" width="4.3" height="5.9" fill="#f4eefa"/>
<rect x="1126.3" y="1257.7" width="3.7" height="5.4" fill="#f4eefa"/>
<rect x="1157.6" y="1228.3" width="4.4" height="8.7" fill="#f4eefa"/>
<rect x="1170.0" y="1208.6" width="2.9" height="9.2" fill="#f4eefa"/>
<rect x="1215.8" y="1162.7" width="3.5" height="9.8" fill="#f4eefa"/>
<rect x="1251.4" y="1116.1" width="4.2" height="9.2" fill="#f4eefa"/>
<rect x="1269.8" y="1085.6" width="4.2" height="7.4" fill="#f4eefa"/>
<rect x="1306.6" y="1053.1" width="3.1" height="9.9" fill="#f4eefa"/>
<rect x="728.3" y="1814.3" width="2.7" height="9.1" fill="#f2f2f2"/>
<rect x="836.7" y="1706.0" width="4.3" height="9.1" fill="#f2f2f2"/>
<rect x="962.8" y="1557.3" width="3.5" height="5.6" fill="#f2f2f2"/>
<rect x="1016.4" y="1484.4" width="3.1" height="7.8" fill="#f2f2f2"/>
<rect x="1135.5" y="1369.4" width="3.1" height="8.2" fill="#f2f2f2"/>
<rect x="1225.6" y="1274.0" width="3.7" height="8.7" fill="#f2f2f2"/>
<rect x="1246.0" y="1250.0" width="3.8" height="9.4" fill="#f2f2f2"/>
</g>
<path d="M1121.5,1199 L1214,1093 M1177,1105.5 L1214,1093 L1209.7,1130.7" fill="none" stroke="#1a1a1a" stroke-width="2.8" stroke-linecap="butt" stroke-linejoin="miter"/>
<path d="M1244.4,1180 L1168.8,1282 M1169.8,1242 L1168.8,1282 L1202.4,1268" fill="none" stroke="#1a1a1a" stroke-width="2.8" stroke-linecap="butt" stroke-linejoin="miter"/>
<path d="M1337.3,1471.4 L1445.5,1399.4 M1403.4,1400.4 L1445.5,1399.4 L1427.6,1436" fill="none" stroke="#1a1a1a" stroke-width="2.8" stroke-linecap="butt" stroke-linejoin="miter"/>
<path d="M1443.4,1485.5 L1323.6,1575.8 M1334,1539 L1323.6,1575.8 L1362.5,1575.8" fill="none" stroke="#1a1a1a" stroke-width="2.8" stroke-linecap="butt" stroke-linejoin="miter"/>
<path d="M1404.5,1568.5 L1513.7,1503.4 M1473.8,1503 L1513.7,1503.4 L1494.8,1539" fill="none" stroke="#1a1a1a" stroke-width="2.8" stroke-linecap="butt" stroke-linejoin="miter"/>
<path d="M1510.6,1605 L1397,1672.5 M1416,1636.8 L1397,1672.5 L1437,1672.5" fill="none" stroke="#1a1a1a" stroke-width="2.8" stroke-linecap="butt" stroke-linejoin="miter"/>
<text x="208.4" y="2013.5" font-size="92" text-anchor="end">0</text>
<text x="210.0" y="1599.5" font-size="92" text-anchor="end">1</text>
<text x="209.7" y="1185.5" font-size="92" text-anchor="end">2</text>
<text x="209.1" y="771.5" font-size="92" text-anchor="end">3</text>
<text x="297.1" y="2134" font-size="92" text-anchor="middle">0</text>
<text x="670.0" y="2134" font-size="92" text-anchor="middle">2</text>
<text x="1043.3" y="2134" font-size="92" text-anchor="middle">4</text>
<text x="1415.3" y="2134" font-size="92" text-anchor="middle">6</text>
<text x="1788.7" y="2134" font-size="92" text-anchor="middle">8</text>
<text x="2162.7" y="2134" font-size="92" text-anchor="middle">10</text>
<text x="965.2" y="2265.0" font-size="92" textLength="301.4" lengthAdjust="spacingAndGlyphs" >Voltage</text>
<text x="1319.9" y="2265.0" font-size="92" textLength="116.3" lengthAdjust="spacingAndGlyphs" >(V)</text>
<text transform="translate(110.8,1804.0) rotate(-90)" x="0" y="0" font-size="92" textLength="288.9" lengthAdjust="spacingAndGlyphs">Electric</text>
<text transform="translate(110.8,1497.1) rotate(-90)" x="0" y="0" font-size="92" textLength="286.8" lengthAdjust="spacingAndGlyphs">current</text>
<text transform="translate(110.8,1107.0) rotate(-90)" x="0" y="0" font-size="92" textLength="191.2" lengthAdjust="spacingAndGlyphs">(mA)</text>
</svg></body></html>
